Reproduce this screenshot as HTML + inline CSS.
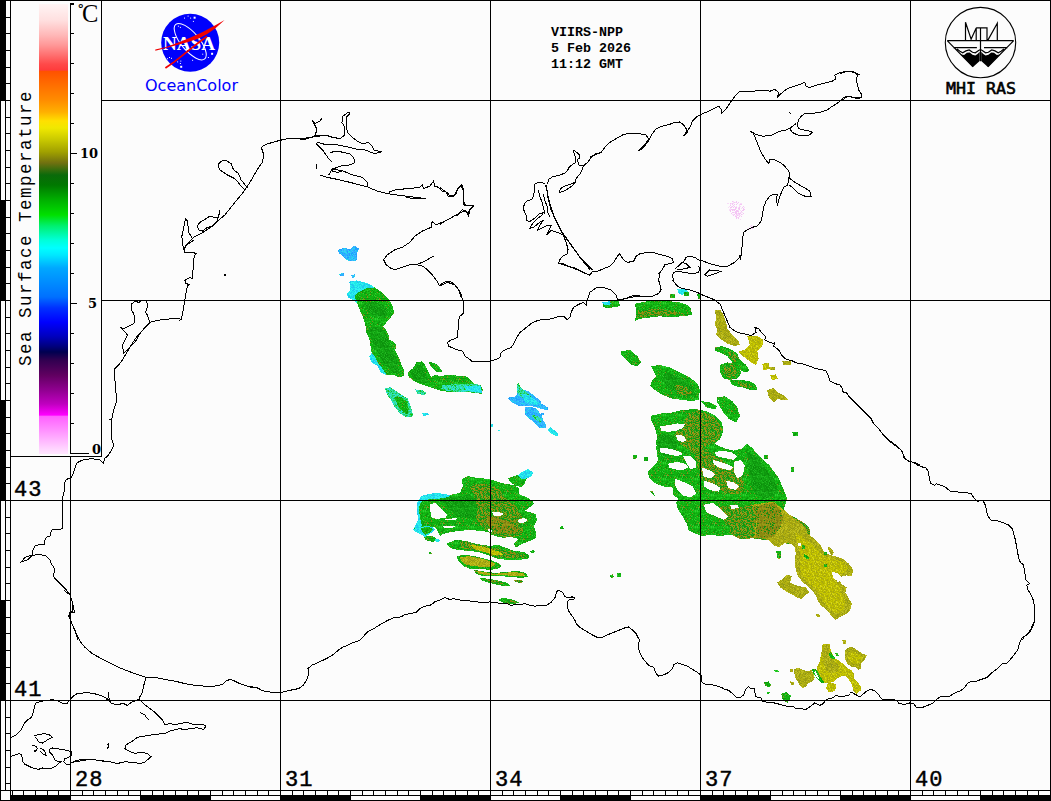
<!DOCTYPE html>
<html><head><meta charset="utf-8"><title>SST Black Sea</title>
<style>html,body{margin:0;padding:0;background:#fcfcfc;}svg{display:block}</style></head>
<body><svg width="1051" height="801" viewBox="0 0 1051 801">
<rect width="1051" height="801" fill="#fcfcfc"/>
<defs><pattern id="pG" width="16" height="16" patternUnits="userSpaceOnUse"><rect width="16" height="16" fill="#10b010"/><path d="M2 0h1v1h-1zM13 0h1v1h-1zM6 1h1v1h-1zM11 1h1v1h-1zM4 2h1v1h-1zM10 2h1v1h-1zM11 2h1v1h-1zM0 3h1v1h-1zM5 3h1v1h-1zM9 3h1v1h-1zM10 3h1v1h-1zM14 3h1v1h-1zM2 4h1v1h-1zM5 4h1v1h-1zM7 4h1v1h-1zM10 4h1v1h-1zM13 4h1v1h-1zM3 5h1v1h-1zM12 5h1v1h-1zM13 5h1v1h-1zM15 6h1v1h-1zM2 7h1v1h-1zM5 7h1v1h-1zM7 7h1v1h-1zM14 8h1v1h-1zM6 9h1v1h-1zM0 10h1v1h-1zM1 10h1v1h-1zM5 10h1v1h-1zM7 10h1v1h-1zM10 10h1v1h-1zM12 10h1v1h-1zM13 10h1v1h-1zM14 10h1v1h-1zM15 10h1v1h-1zM7 11h1v1h-1zM4 12h1v1h-1zM6 12h1v1h-1zM7 12h1v1h-1zM9 12h1v1h-1zM11 12h1v1h-1zM12 12h1v1h-1zM15 12h1v1h-1zM1 13h1v1h-1zM6 13h1v1h-1zM11 13h1v1h-1zM13 13h1v1h-1zM15 13h1v1h-1zM10 14h1v1h-1z" fill="#0c9a0c"/><path d="M4 0h1v1h-1zM7 0h1v1h-1zM9 0h1v1h-1zM12 0h1v1h-1zM0 1h1v1h-1zM2 1h1v1h-1zM13 1h1v1h-1zM14 1h1v1h-1zM0 2h1v1h-1zM5 2h1v1h-1zM7 2h1v1h-1zM8 2h1v1h-1zM13 2h1v1h-1zM14 2h1v1h-1zM4 3h1v1h-1zM7 3h1v1h-1zM11 3h1v1h-1zM15 3h1v1h-1zM0 4h1v1h-1zM1 4h1v1h-1zM4 4h1v1h-1zM8 4h1v1h-1zM15 4h1v1h-1zM9 5h1v1h-1zM10 5h1v1h-1zM15 5h1v1h-1zM7 6h1v1h-1zM8 6h1v1h-1zM11 6h1v1h-1zM13 6h1v1h-1zM0 7h1v1h-1zM1 7h1v1h-1zM11 7h1v1h-1zM8 8h1v1h-1zM0 9h1v1h-1zM1 9h1v1h-1zM10 9h1v1h-1zM12 9h1v1h-1zM14 9h1v1h-1zM6 10h1v1h-1zM1 11h1v1h-1zM9 11h1v1h-1zM2 12h1v1h-1zM5 12h1v1h-1zM13 12h1v1h-1zM4 13h1v1h-1zM1 14h1v1h-1zM5 14h1v1h-1zM6 14h1v1h-1zM8 14h1v1h-1zM15 14h1v1h-1zM1 15h1v1h-1zM5 15h1v1h-1zM6 15h1v1h-1zM8 15h1v1h-1zM10 15h1v1h-1zM11 15h1v1h-1zM12 15h1v1h-1zM14 15h1v1h-1z" fill="#18c018"/><path d="M1 1h1v1h-1zM15 2h1v1h-1zM12 3h1v1h-1zM3 4h1v1h-1zM7 5h1v1h-1zM11 5h1v1h-1zM1 6h1v1h-1zM4 7h1v1h-1zM6 7h1v1h-1zM7 8h1v1h-1zM10 11h1v1h-1zM3 12h1v1h-1zM10 12h1v1h-1zM5 13h1v1h-1zM10 13h1v1h-1zM7 14h1v1h-1zM9 14h1v1h-1zM3 15h1v1h-1zM7 15h1v1h-1zM9 15h1v1h-1z" fill="#30d030"/><path d="M4 1h1v1h-1zM2 3h1v1h-1zM9 4h1v1h-1zM2 6h1v1h-1zM14 6h1v1h-1zM15 8h1v1h-1zM9 9h1v1h-1zM15 9h1v1h-1zM11 10h1v1h-1zM8 11h1v1h-1zM11 11h1v1h-1zM12 11h1v1h-1zM2 13h1v1h-1zM14 13h1v1h-1zM4 14h1v1h-1z" fill="#80901a"/></pattern><pattern id="pGd" width="16" height="16" patternUnits="userSpaceOnUse"><rect width="16" height="16" fill="#0e980e"/><path d="M1 0h1v1h-1zM9 0h1v1h-1zM14 0h1v1h-1zM1 1h1v1h-1zM13 1h1v1h-1zM2 2h1v1h-1zM10 2h1v1h-1zM11 2h1v1h-1zM0 3h1v1h-1zM7 3h1v1h-1zM8 4h1v1h-1zM13 4h1v1h-1zM2 5h1v1h-1zM15 5h1v1h-1zM1 6h1v1h-1zM3 6h1v1h-1zM2 7h1v1h-1zM0 8h1v1h-1zM3 8h1v1h-1zM9 8h1v1h-1zM5 9h1v1h-1zM6 9h1v1h-1zM6 11h1v1h-1zM9 11h1v1h-1zM1 12h1v1h-1zM2 12h1v1h-1zM5 12h1v1h-1zM9 12h1v1h-1zM10 12h1v1h-1zM11 12h1v1h-1zM13 12h1v1h-1zM5 13h1v1h-1zM12 13h1v1h-1zM14 14h1v1h-1z" fill="#20b820"/><path d="M3 0h1v1h-1zM4 0h1v1h-1zM5 0h1v1h-1zM7 0h1v1h-1zM8 0h1v1h-1zM11 0h1v1h-1zM15 0h1v1h-1zM0 1h1v1h-1zM4 1h1v1h-1zM5 1h1v1h-1zM6 1h1v1h-1zM7 1h1v1h-1zM8 1h1v1h-1zM9 1h1v1h-1zM10 1h1v1h-1zM12 1h1v1h-1zM0 2h1v1h-1zM9 2h1v1h-1zM13 2h1v1h-1zM14 2h1v1h-1zM5 3h1v1h-1zM10 3h1v1h-1zM14 3h1v1h-1zM0 4h1v1h-1zM4 4h1v1h-1zM5 4h1v1h-1zM6 5h1v1h-1zM7 5h1v1h-1zM10 5h1v1h-1zM14 5h1v1h-1zM4 6h1v1h-1zM6 6h1v1h-1zM10 6h1v1h-1zM4 7h1v1h-1zM10 7h1v1h-1zM11 7h1v1h-1zM13 7h1v1h-1zM2 8h1v1h-1zM5 8h1v1h-1zM6 8h1v1h-1zM10 8h1v1h-1zM11 8h1v1h-1zM1 9h1v1h-1zM7 9h1v1h-1zM11 9h1v1h-1zM1 10h1v1h-1zM8 10h1v1h-1zM9 10h1v1h-1zM11 10h1v1h-1zM4 11h1v1h-1zM5 11h1v1h-1zM7 11h1v1h-1zM8 11h1v1h-1zM14 11h1v1h-1zM15 11h1v1h-1zM3 12h1v1h-1zM4 12h1v1h-1zM7 12h1v1h-1zM8 12h1v1h-1zM12 12h1v1h-1zM14 12h1v1h-1zM15 12h1v1h-1zM6 13h1v1h-1zM7 13h1v1h-1zM8 13h1v1h-1zM9 13h1v1h-1zM10 13h1v1h-1zM13 13h1v1h-1zM14 13h1v1h-1zM15 13h1v1h-1zM0 14h1v1h-1zM2 14h1v1h-1zM6 14h1v1h-1zM8 14h1v1h-1zM10 14h1v1h-1zM12 14h1v1h-1zM13 14h1v1h-1zM15 14h1v1h-1zM0 15h1v1h-1zM4 15h1v1h-1zM6 15h1v1h-1zM10 15h1v1h-1zM11 15h1v1h-1zM12 15h1v1h-1zM14 15h1v1h-1zM15 15h1v1h-1z" fill="#14a814"/><path d="M2 1h1v1h-1zM11 1h1v1h-1zM14 1h1v1h-1zM1 2h1v1h-1zM1 3h1v1h-1zM3 3h1v1h-1zM6 3h1v1h-1zM7 4h1v1h-1zM9 4h1v1h-1zM1 5h1v1h-1zM5 5h1v1h-1zM13 5h1v1h-1zM7 6h1v1h-1zM14 7h1v1h-1zM7 8h1v1h-1zM15 9h1v1h-1zM0 10h1v1h-1zM3 10h1v1h-1zM12 11h1v1h-1zM9 14h1v1h-1z" fill="#0a8a0a"/></pattern><pattern id="pGO" width="16" height="16" patternUnits="userSpaceOnUse"><rect width="16" height="16" fill="#109810"/><path d="M0 0h1v1h-1zM7 0h1v1h-1zM10 0h1v1h-1zM14 1h1v1h-1zM15 1h1v1h-1zM1 2h1v1h-1zM2 2h1v1h-1zM12 2h1v1h-1zM13 2h1v1h-1zM0 3h1v1h-1zM1 3h1v1h-1zM12 3h1v1h-1zM7 4h1v1h-1zM15 4h1v1h-1zM5 5h1v1h-1zM7 5h1v1h-1zM0 6h1v1h-1zM4 6h1v1h-1zM11 6h1v1h-1zM12 6h1v1h-1zM14 6h1v1h-1zM15 6h1v1h-1zM10 7h1v1h-1zM11 7h1v1h-1zM6 8h1v1h-1zM4 9h1v1h-1zM11 9h1v1h-1zM4 10h1v1h-1zM8 10h1v1h-1zM9 10h1v1h-1zM2 11h1v1h-1zM6 11h1v1h-1zM12 11h1v1h-1zM13 11h1v1h-1zM5 12h1v1h-1zM15 12h1v1h-1zM3 13h1v1h-1zM9 13h1v1h-1zM15 13h1v1h-1zM5 14h1v1h-1zM6 14h1v1h-1zM7 14h1v1h-1zM11 14h1v1h-1zM0 15h1v1h-1zM3 15h1v1h-1zM6 15h1v1h-1zM9 15h1v1h-1zM12 15h1v1h-1z" fill="#20a820"/><path d="M2 0h1v1h-1zM4 0h1v1h-1zM5 0h1v1h-1zM8 0h1v1h-1zM9 0h1v1h-1zM13 0h1v1h-1zM2 1h1v1h-1zM4 1h1v1h-1zM6 1h1v1h-1zM9 1h1v1h-1zM3 2h1v1h-1zM6 2h1v1h-1zM8 2h1v1h-1zM10 2h1v1h-1zM14 2h1v1h-1zM5 3h1v1h-1zM7 3h1v1h-1zM13 3h1v1h-1zM14 3h1v1h-1zM15 3h1v1h-1zM1 4h1v1h-1zM2 4h1v1h-1zM12 4h1v1h-1zM2 5h1v1h-1zM11 5h1v1h-1zM14 5h1v1h-1zM15 5h1v1h-1zM9 6h1v1h-1zM2 7h1v1h-1zM6 7h1v1h-1zM12 7h1v1h-1zM13 7h1v1h-1zM14 7h1v1h-1zM2 8h1v1h-1zM7 8h1v1h-1zM8 8h1v1h-1zM9 8h1v1h-1zM10 8h1v1h-1zM0 9h1v1h-1zM9 9h1v1h-1zM10 10h1v1h-1zM12 10h1v1h-1zM0 11h1v1h-1zM9 11h1v1h-1zM0 12h1v1h-1zM4 12h1v1h-1zM6 12h1v1h-1zM11 12h1v1h-1zM1 13h1v1h-1zM5 13h1v1h-1zM10 13h1v1h-1zM11 13h1v1h-1zM13 13h1v1h-1zM14 13h1v1h-1zM1 14h1v1h-1zM12 14h1v1h-1zM14 14h1v1h-1zM1 15h1v1h-1zM2 15h1v1h-1zM7 15h1v1h-1zM10 15h1v1h-1zM13 15h1v1h-1z" fill="#9a9a18"/><path d="M15 0h1v1h-1zM1 1h1v1h-1zM5 1h1v1h-1zM7 1h1v1h-1zM10 1h1v1h-1zM13 1h1v1h-1zM5 2h1v1h-1zM9 2h1v1h-1zM15 2h1v1h-1zM10 3h1v1h-1zM0 4h1v1h-1zM3 4h1v1h-1zM4 4h1v1h-1zM6 4h1v1h-1zM8 4h1v1h-1zM9 4h1v1h-1zM14 4h1v1h-1zM1 5h1v1h-1zM4 5h1v1h-1zM6 5h1v1h-1zM12 5h1v1h-1zM8 6h1v1h-1zM10 6h1v1h-1zM13 6h1v1h-1zM4 7h1v1h-1zM5 7h1v1h-1zM1 8h1v1h-1zM3 8h1v1h-1zM4 8h1v1h-1zM14 8h1v1h-1zM15 8h1v1h-1zM1 9h1v1h-1zM2 9h1v1h-1zM3 9h1v1h-1zM5 9h1v1h-1zM7 9h1v1h-1zM10 9h1v1h-1zM14 9h1v1h-1zM15 9h1v1h-1zM2 10h1v1h-1zM3 10h1v1h-1zM6 10h1v1h-1zM11 10h1v1h-1zM13 10h1v1h-1zM1 11h1v1h-1zM4 11h1v1h-1zM5 11h1v1h-1zM8 11h1v1h-1zM14 11h1v1h-1zM1 12h1v1h-1zM2 12h1v1h-1zM9 12h1v1h-1zM12 12h1v1h-1zM0 13h1v1h-1zM12 13h1v1h-1zM2 14h1v1h-1zM4 14h1v1h-1zM5 15h1v1h-1zM14 15h1v1h-1z" fill="#8a8a10"/></pattern><pattern id="pO" width="16" height="16" patternUnits="userSpaceOnUse"><rect width="16" height="16" fill="#8a8a10"/><path d="M2 0h1v1h-1zM5 0h1v1h-1zM8 0h1v1h-1zM0 1h1v1h-1zM2 1h1v1h-1zM6 1h1v1h-1zM7 1h1v1h-1zM12 1h1v1h-1zM15 2h1v1h-1zM0 3h1v1h-1zM1 3h1v1h-1zM9 4h1v1h-1zM13 4h1v1h-1zM2 5h1v1h-1zM7 5h1v1h-1zM12 5h1v1h-1zM14 5h1v1h-1zM0 6h1v1h-1zM4 6h1v1h-1zM3 8h1v1h-1zM8 8h1v1h-1zM9 8h1v1h-1zM15 8h1v1h-1zM3 9h1v1h-1zM9 9h1v1h-1zM1 10h1v1h-1zM5 10h1v1h-1zM8 10h1v1h-1zM9 10h1v1h-1zM12 10h1v1h-1zM14 10h1v1h-1zM15 11h1v1h-1zM8 14h1v1h-1zM10 14h1v1h-1zM11 14h1v1h-1zM15 14h1v1h-1zM1 15h1v1h-1zM2 15h1v1h-1zM5 15h1v1h-1zM10 15h1v1h-1zM15 15h1v1h-1z" fill="#7a7a10"/><path d="M4 0h1v1h-1zM11 0h1v1h-1zM15 0h1v1h-1zM14 1h1v1h-1zM15 1h1v1h-1zM0 2h1v1h-1zM1 2h1v1h-1zM6 2h1v1h-1zM9 2h1v1h-1zM6 3h1v1h-1zM12 3h1v1h-1zM13 3h1v1h-1zM0 4h1v1h-1zM4 4h1v1h-1zM0 5h1v1h-1zM5 5h1v1h-1zM6 5h1v1h-1zM3 6h1v1h-1zM6 7h1v1h-1zM12 8h1v1h-1zM1 9h1v1h-1zM4 10h1v1h-1zM0 11h1v1h-1zM2 11h1v1h-1zM5 11h1v1h-1zM6 11h1v1h-1zM14 11h1v1h-1zM2 12h1v1h-1zM4 12h1v1h-1zM4 13h1v1h-1zM5 13h1v1h-1zM2 14h1v1h-1zM3 14h1v1h-1zM12 14h1v1h-1zM13 14h1v1h-1zM4 15h1v1h-1zM8 15h1v1h-1zM12 15h1v1h-1z" fill="#109010"/><path d="M9 0h1v1h-1zM1 1h1v1h-1zM5 1h1v1h-1zM10 1h1v1h-1zM11 1h1v1h-1zM2 2h1v1h-1zM13 2h1v1h-1zM5 3h1v1h-1zM7 3h1v1h-1zM9 3h1v1h-1zM10 3h1v1h-1zM11 3h1v1h-1zM14 3h1v1h-1zM2 4h1v1h-1zM10 4h1v1h-1zM14 4h1v1h-1zM1 5h1v1h-1zM4 5h1v1h-1zM13 5h1v1h-1zM1 6h1v1h-1zM6 6h1v1h-1zM7 6h1v1h-1zM13 6h1v1h-1zM14 6h1v1h-1zM2 7h1v1h-1zM7 7h1v1h-1zM11 7h1v1h-1zM12 7h1v1h-1zM15 7h1v1h-1zM0 8h1v1h-1zM5 8h1v1h-1zM7 8h1v1h-1zM0 9h1v1h-1zM2 9h1v1h-1zM4 9h1v1h-1zM7 9h1v1h-1zM8 9h1v1h-1zM11 9h1v1h-1zM13 9h1v1h-1zM0 10h1v1h-1zM3 10h1v1h-1zM10 10h1v1h-1zM15 10h1v1h-1zM4 11h1v1h-1zM10 11h1v1h-1zM1 12h1v1h-1zM6 12h1v1h-1zM7 12h1v1h-1zM8 12h1v1h-1zM10 12h1v1h-1zM11 12h1v1h-1zM12 12h1v1h-1zM13 12h1v1h-1zM14 12h1v1h-1zM15 12h1v1h-1zM1 13h1v1h-1zM2 13h1v1h-1zM6 13h1v1h-1zM8 13h1v1h-1zM11 13h1v1h-1zM13 13h1v1h-1zM14 13h1v1h-1zM0 14h1v1h-1zM4 14h1v1h-1zM6 14h1v1h-1zM0 15h1v1h-1zM14 15h1v1h-1z" fill="#9a9a18"/></pattern><pattern id="pOY" width="16" height="16" patternUnits="userSpaceOnUse"><rect width="16" height="16" fill="#b0b010"/><path d="M2 0h1v1h-1zM13 0h1v1h-1zM15 0h1v1h-1zM1 1h1v1h-1zM2 1h1v1h-1zM7 1h1v1h-1zM11 1h1v1h-1zM12 1h1v1h-1zM14 1h1v1h-1zM6 2h1v1h-1zM13 2h1v1h-1zM14 2h1v1h-1zM5 3h1v1h-1zM7 3h1v1h-1zM9 3h1v1h-1zM10 3h1v1h-1zM13 3h1v1h-1zM6 4h1v1h-1zM10 4h1v1h-1zM11 4h1v1h-1zM13 4h1v1h-1zM3 5h1v1h-1zM4 5h1v1h-1zM9 5h1v1h-1zM14 5h1v1h-1zM11 6h1v1h-1zM13 6h1v1h-1zM8 7h1v1h-1zM9 7h1v1h-1zM11 7h1v1h-1zM0 9h1v1h-1zM4 9h1v1h-1zM6 9h1v1h-1zM9 10h1v1h-1zM10 10h1v1h-1zM1 12h1v1h-1zM6 12h1v1h-1zM9 12h1v1h-1zM13 12h1v1h-1zM14 12h1v1h-1zM2 13h1v1h-1zM13 13h1v1h-1zM14 13h1v1h-1zM1 14h1v1h-1zM9 14h1v1h-1zM1 15h1v1h-1zM2 15h1v1h-1zM3 15h1v1h-1zM11 15h1v1h-1zM12 15h1v1h-1zM15 15h1v1h-1z" fill="#c0c020"/><path d="M7 0h1v1h-1zM9 0h1v1h-1zM0 1h1v1h-1zM3 1h1v1h-1zM5 1h1v1h-1zM10 1h1v1h-1zM5 2h1v1h-1zM15 2h1v1h-1zM15 3h1v1h-1zM4 4h1v1h-1zM14 4h1v1h-1zM1 5h1v1h-1zM10 5h1v1h-1zM5 6h1v1h-1zM14 7h1v1h-1zM0 8h1v1h-1zM5 8h1v1h-1zM8 8h1v1h-1zM11 8h1v1h-1zM15 8h1v1h-1zM3 9h1v1h-1zM11 9h1v1h-1zM15 9h1v1h-1zM13 10h1v1h-1zM15 10h1v1h-1zM0 11h1v1h-1zM1 11h1v1h-1zM8 12h1v1h-1zM10 12h1v1h-1zM4 13h1v1h-1zM11 13h1v1h-1zM5 14h1v1h-1zM4 15h1v1h-1zM6 15h1v1h-1zM10 15h1v1h-1zM13 15h1v1h-1z" fill="#909818"/><path d="M8 0h1v1h-1zM11 0h1v1h-1zM14 0h1v1h-1zM6 1h1v1h-1zM8 1h1v1h-1zM13 1h1v1h-1zM0 2h1v1h-1zM2 2h1v1h-1zM4 2h1v1h-1zM7 2h1v1h-1zM12 2h1v1h-1zM2 3h1v1h-1zM12 3h1v1h-1zM3 4h1v1h-1zM5 4h1v1h-1zM9 4h1v1h-1zM12 4h1v1h-1zM15 4h1v1h-1zM7 5h1v1h-1zM13 5h1v1h-1zM15 5h1v1h-1zM0 6h1v1h-1zM6 6h1v1h-1zM7 6h1v1h-1zM9 6h1v1h-1zM10 6h1v1h-1zM12 6h1v1h-1zM3 7h1v1h-1zM4 7h1v1h-1zM5 7h1v1h-1zM6 7h1v1h-1zM10 7h1v1h-1zM13 7h1v1h-1zM4 8h1v1h-1zM6 8h1v1h-1zM12 8h1v1h-1zM13 8h1v1h-1zM14 8h1v1h-1zM1 9h1v1h-1zM2 9h1v1h-1zM5 9h1v1h-1zM9 9h1v1h-1zM4 10h1v1h-1zM5 10h1v1h-1zM6 10h1v1h-1zM7 10h1v1h-1zM11 10h1v1h-1zM12 10h1v1h-1zM6 11h1v1h-1zM7 11h1v1h-1zM8 11h1v1h-1zM9 11h1v1h-1zM10 11h1v1h-1zM14 11h1v1h-1zM5 12h1v1h-1zM11 12h1v1h-1zM15 12h1v1h-1zM1 13h1v1h-1zM6 13h1v1h-1zM10 13h1v1h-1zM15 13h1v1h-1zM3 14h1v1h-1zM8 14h1v1h-1zM11 14h1v1h-1zM13 14h1v1h-1zM14 14h1v1h-1zM15 14h1v1h-1zM0 15h1v1h-1z" fill="#a0a010"/></pattern><pattern id="pY" width="16" height="16" patternUnits="userSpaceOnUse"><rect width="16" height="16" fill="#c8c800"/><path d="M0 0h1v1h-1zM3 0h1v1h-1zM11 0h1v1h-1zM13 0h1v1h-1zM15 0h1v1h-1zM10 1h1v1h-1zM3 2h1v1h-1zM7 2h1v1h-1zM9 2h1v1h-1zM12 2h1v1h-1zM14 2h1v1h-1zM1 3h1v1h-1zM2 3h1v1h-1zM3 3h1v1h-1zM5 3h1v1h-1zM6 3h1v1h-1zM9 3h1v1h-1zM10 3h1v1h-1zM12 3h1v1h-1zM4 4h1v1h-1zM5 4h1v1h-1zM7 4h1v1h-1zM9 4h1v1h-1zM12 4h1v1h-1zM14 4h1v1h-1zM15 4h1v1h-1zM0 5h1v1h-1zM1 5h1v1h-1zM7 5h1v1h-1zM8 5h1v1h-1zM11 5h1v1h-1zM15 5h1v1h-1zM1 6h1v1h-1zM2 6h1v1h-1zM4 6h1v1h-1zM5 6h1v1h-1zM7 6h1v1h-1zM8 6h1v1h-1zM12 6h1v1h-1zM0 7h1v1h-1zM3 7h1v1h-1zM5 7h1v1h-1zM6 7h1v1h-1zM8 7h1v1h-1zM13 7h1v1h-1zM0 8h1v1h-1zM5 8h1v1h-1zM6 8h1v1h-1zM7 8h1v1h-1zM10 8h1v1h-1zM11 8h1v1h-1zM14 8h1v1h-1zM0 9h1v1h-1zM3 9h1v1h-1zM6 9h1v1h-1zM8 9h1v1h-1zM15 9h1v1h-1zM0 10h1v1h-1zM1 10h1v1h-1zM3 10h1v1h-1zM12 10h1v1h-1zM12 11h1v1h-1zM4 12h1v1h-1zM6 12h1v1h-1zM8 12h1v1h-1zM12 12h1v1h-1zM14 12h1v1h-1zM0 13h1v1h-1zM1 13h1v1h-1zM2 13h1v1h-1zM6 13h1v1h-1zM7 13h1v1h-1zM10 13h1v1h-1zM11 13h1v1h-1zM14 13h1v1h-1zM15 13h1v1h-1zM1 14h1v1h-1zM6 14h1v1h-1zM7 14h1v1h-1zM11 14h1v1h-1zM14 14h1v1h-1zM15 14h1v1h-1zM0 15h1v1h-1zM3 15h1v1h-1zM4 15h1v1h-1zM5 15h1v1h-1zM9 15h1v1h-1zM10 15h1v1h-1zM12 15h1v1h-1z" fill="#b8b800"/><path d="M1 0h1v1h-1zM2 0h1v1h-1zM7 0h1v1h-1zM8 0h1v1h-1zM9 0h1v1h-1zM12 0h1v1h-1zM4 1h1v1h-1zM5 1h1v1h-1zM15 1h1v1h-1zM5 2h1v1h-1zM6 2h1v1h-1zM15 2h1v1h-1zM0 3h1v1h-1zM7 3h1v1h-1zM11 3h1v1h-1zM14 3h1v1h-1zM0 4h1v1h-1zM1 4h1v1h-1zM3 4h1v1h-1zM10 4h1v1h-1zM11 4h1v1h-1zM2 5h1v1h-1zM5 5h1v1h-1zM6 5h1v1h-1zM13 5h1v1h-1zM3 6h1v1h-1zM6 6h1v1h-1zM11 6h1v1h-1zM13 6h1v1h-1zM7 7h1v1h-1zM11 7h1v1h-1zM15 7h1v1h-1zM3 8h1v1h-1zM4 8h1v1h-1zM12 8h1v1h-1zM13 8h1v1h-1zM2 9h1v1h-1zM11 9h1v1h-1zM2 10h1v1h-1zM7 10h1v1h-1zM9 10h1v1h-1zM11 10h1v1h-1zM0 11h1v1h-1zM5 11h1v1h-1zM9 11h1v1h-1zM13 11h1v1h-1zM14 11h1v1h-1zM0 12h1v1h-1zM1 12h1v1h-1zM3 12h1v1h-1zM5 12h1v1h-1zM5 13h1v1h-1zM8 13h1v1h-1zM9 13h1v1h-1zM2 14h1v1h-1zM10 14h1v1h-1zM1 15h1v1h-1zM6 15h1v1h-1zM8 15h1v1h-1zM14 15h1v1h-1zM15 15h1v1h-1z" fill="#a8a810"/><path d="M0 1h1v1h-1zM14 1h1v1h-1zM1 2h1v1h-1zM4 2h1v1h-1zM8 3h1v1h-1zM15 3h1v1h-1zM2 4h1v1h-1zM3 5h1v1h-1zM9 5h1v1h-1zM14 5h1v1h-1zM9 6h1v1h-1zM15 6h1v1h-1zM12 7h1v1h-1zM9 8h1v1h-1zM4 9h1v1h-1zM4 10h1v1h-1zM5 10h1v1h-1zM8 10h1v1h-1zM15 10h1v1h-1zM8 11h1v1h-1zM11 11h1v1h-1zM15 11h1v1h-1zM7 12h1v1h-1zM3 13h1v1h-1zM12 13h1v1h-1zM3 14h1v1h-1zM5 14h1v1h-1zM8 14h1v1h-1zM13 14h1v1h-1zM13 15h1v1h-1z" fill="#d8d818"/></pattern><pattern id="pC" width="16" height="16" patternUnits="userSpaceOnUse"><rect width="16" height="16" fill="#20e8e8"/><path d="M3 0h1v1h-1zM4 0h1v1h-1zM7 0h1v1h-1zM9 0h1v1h-1zM15 0h1v1h-1zM0 1h1v1h-1zM3 1h1v1h-1zM4 1h1v1h-1zM5 1h1v1h-1zM6 1h1v1h-1zM7 1h1v1h-1zM8 1h1v1h-1zM10 1h1v1h-1zM2 2h1v1h-1zM6 2h1v1h-1zM12 2h1v1h-1zM15 2h1v1h-1zM3 3h1v1h-1zM8 3h1v1h-1zM14 3h1v1h-1zM3 4h1v1h-1zM10 4h1v1h-1zM12 4h1v1h-1zM0 5h1v1h-1zM2 5h1v1h-1zM4 5h1v1h-1zM5 5h1v1h-1zM10 5h1v1h-1zM13 5h1v1h-1zM1 6h1v1h-1zM7 6h1v1h-1zM9 6h1v1h-1zM13 6h1v1h-1zM14 6h1v1h-1zM4 7h1v1h-1zM8 7h1v1h-1zM11 7h1v1h-1zM14 7h1v1h-1zM3 8h1v1h-1zM4 8h1v1h-1zM11 8h1v1h-1zM2 9h1v1h-1zM6 9h1v1h-1zM10 9h1v1h-1zM0 10h1v1h-1zM1 10h1v1h-1zM12 10h1v1h-1zM15 10h1v1h-1zM1 11h1v1h-1zM5 11h1v1h-1zM7 11h1v1h-1zM9 11h1v1h-1zM15 11h1v1h-1zM2 12h1v1h-1zM4 12h1v1h-1zM10 12h1v1h-1zM8 13h1v1h-1zM14 13h1v1h-1zM3 14h1v1h-1zM4 14h1v1h-1zM6 14h1v1h-1zM5 15h1v1h-1zM6 15h1v1h-1zM12 15h1v1h-1zM14 15h1v1h-1z" fill="#30f4f0"/><path d="M5 0h1v1h-1zM8 0h1v1h-1zM14 0h1v1h-1zM1 1h1v1h-1zM2 1h1v1h-1zM12 1h1v1h-1zM0 2h1v1h-1zM1 2h1v1h-1zM4 2h1v1h-1zM5 2h1v1h-1zM13 2h1v1h-1zM2 3h1v1h-1zM4 3h1v1h-1zM9 3h1v1h-1zM10 3h1v1h-1zM5 4h1v1h-1zM7 4h1v1h-1zM15 4h1v1h-1zM1 5h1v1h-1zM7 5h1v1h-1zM9 5h1v1h-1zM14 5h1v1h-1zM3 6h1v1h-1zM11 6h1v1h-1zM1 7h1v1h-1zM2 7h1v1h-1zM3 7h1v1h-1zM7 7h1v1h-1zM9 7h1v1h-1zM12 7h1v1h-1zM13 7h1v1h-1zM1 8h1v1h-1zM5 8h1v1h-1zM6 8h1v1h-1zM12 8h1v1h-1zM13 8h1v1h-1zM15 8h1v1h-1zM0 9h1v1h-1zM1 9h1v1h-1zM4 9h1v1h-1zM5 9h1v1h-1zM7 9h1v1h-1zM11 9h1v1h-1zM13 9h1v1h-1zM14 9h1v1h-1zM5 10h1v1h-1zM6 10h1v1h-1zM9 10h1v1h-1zM10 10h1v1h-1zM13 10h1v1h-1zM14 10h1v1h-1zM12 11h1v1h-1zM0 12h1v1h-1zM7 12h1v1h-1zM8 12h1v1h-1zM12 12h1v1h-1zM14 12h1v1h-1zM15 12h1v1h-1zM0 13h1v1h-1zM1 13h1v1h-1zM9 13h1v1h-1zM11 13h1v1h-1zM12 13h1v1h-1zM1 14h1v1h-1zM5 14h1v1h-1zM10 14h1v1h-1zM11 14h1v1h-1zM0 15h1v1h-1zM1 15h1v1h-1zM2 15h1v1h-1zM4 15h1v1h-1zM7 15h1v1h-1zM10 15h1v1h-1zM11 15h1v1h-1zM15 15h1v1h-1z" fill="#20c8f0"/></pattern><pattern id="pLB" width="16" height="16" patternUnits="userSpaceOnUse"><rect width="16" height="16" fill="#30b0ff"/><path d="M4 0h1v1h-1zM7 1h1v1h-1zM8 1h1v1h-1zM11 1h1v1h-1zM12 1h1v1h-1zM1 2h1v1h-1zM11 2h1v1h-1zM4 3h1v1h-1zM9 4h1v1h-1zM14 4h1v1h-1zM6 5h1v1h-1zM7 5h1v1h-1zM10 5h1v1h-1zM13 5h1v1h-1zM8 6h1v1h-1zM11 6h1v1h-1zM3 7h1v1h-1zM5 7h1v1h-1zM7 7h1v1h-1zM3 8h1v1h-1zM4 8h1v1h-1zM5 8h1v1h-1zM6 8h1v1h-1zM3 9h1v1h-1zM4 9h1v1h-1zM5 9h1v1h-1zM12 9h1v1h-1zM13 9h1v1h-1zM2 10h1v1h-1zM5 10h1v1h-1zM13 10h1v1h-1zM11 11h1v1h-1zM0 12h1v1h-1zM2 12h1v1h-1zM5 12h1v1h-1zM11 12h1v1h-1zM0 13h1v1h-1zM4 13h1v1h-1zM6 13h1v1h-1zM8 13h1v1h-1zM13 13h1v1h-1zM15 13h1v1h-1zM1 14h1v1h-1zM3 14h1v1h-1zM4 14h1v1h-1zM13 14h1v1h-1zM15 14h1v1h-1zM0 15h1v1h-1zM4 15h1v1h-1zM5 15h1v1h-1zM6 15h1v1h-1zM7 15h1v1h-1zM11 15h1v1h-1zM13 15h1v1h-1z" fill="#20a0ff"/><path d="M8 0h1v1h-1zM10 0h1v1h-1zM6 1h1v1h-1zM10 1h1v1h-1zM0 2h1v1h-1zM8 2h1v1h-1zM2 3h1v1h-1zM0 4h1v1h-1zM4 4h1v1h-1zM8 4h1v1h-1zM1 5h1v1h-1zM2 5h1v1h-1zM11 5h1v1h-1zM12 5h1v1h-1zM0 6h1v1h-1zM2 6h1v1h-1zM4 6h1v1h-1zM6 6h1v1h-1zM15 6h1v1h-1zM9 7h1v1h-1zM10 7h1v1h-1zM13 7h1v1h-1zM15 7h1v1h-1zM13 8h1v1h-1zM0 9h1v1h-1zM6 9h1v1h-1zM9 9h1v1h-1zM6 10h1v1h-1zM8 10h1v1h-1zM12 10h1v1h-1zM0 11h1v1h-1zM6 11h1v1h-1zM8 11h1v1h-1zM9 11h1v1h-1zM9 12h1v1h-1zM12 12h1v1h-1zM2 13h1v1h-1zM14 14h1v1h-1zM1 15h1v1h-1zM3 15h1v1h-1z" fill="#40c4ff"/><path d="M13 0h1v1h-1zM15 0h1v1h-1zM0 1h1v1h-1zM1 1h1v1h-1zM5 1h1v1h-1zM3 2h1v1h-1zM13 2h1v1h-1zM15 2h1v1h-1zM1 3h1v1h-1zM9 3h1v1h-1zM10 3h1v1h-1zM11 3h1v1h-1zM14 3h1v1h-1zM2 4h1v1h-1zM12 4h1v1h-1zM7 6h1v1h-1zM10 6h1v1h-1zM12 6h1v1h-1zM11 7h1v1h-1zM1 8h1v1h-1zM2 8h1v1h-1zM8 8h1v1h-1zM8 9h1v1h-1zM3 10h1v1h-1zM9 10h1v1h-1zM15 10h1v1h-1zM5 11h1v1h-1zM7 11h1v1h-1zM12 11h1v1h-1zM13 11h1v1h-1zM8 12h1v1h-1zM10 12h1v1h-1zM13 12h1v1h-1zM14 12h1v1h-1zM5 13h1v1h-1zM10 13h1v1h-1zM0 14h1v1h-1z" fill="#20e0e8"/></pattern><pattern id="pPk" width="16" height="16" patternUnits="userSpaceOnUse"><rect width="16" height="16" fill="#fcfcfc"/><path d="M0 0h1v1h-1zM5 0h1v1h-1zM10 0h1v1h-1zM2 1h1v1h-1zM9 1h1v1h-1zM10 1h1v1h-1zM2 2h1v1h-1zM4 2h1v1h-1zM9 2h1v1h-1zM13 2h1v1h-1zM9 3h1v1h-1zM2 4h1v1h-1zM4 4h1v1h-1zM5 4h1v1h-1zM6 4h1v1h-1zM9 4h1v1h-1zM14 4h1v1h-1zM1 5h1v1h-1zM9 5h1v1h-1zM1 6h1v1h-1zM2 6h1v1h-1zM6 6h1v1h-1zM9 6h1v1h-1zM12 6h1v1h-1zM13 6h1v1h-1zM0 7h1v1h-1zM2 7h1v1h-1zM3 7h1v1h-1zM4 7h1v1h-1zM15 7h1v1h-1zM8 8h1v1h-1zM1 9h1v1h-1zM11 9h1v1h-1zM13 9h1v1h-1zM7 10h1v1h-1zM13 10h1v1h-1zM15 10h1v1h-1zM4 11h1v1h-1zM5 11h1v1h-1zM7 11h1v1h-1zM8 11h1v1h-1zM11 11h1v1h-1zM13 11h1v1h-1zM3 12h1v1h-1zM10 12h1v1h-1zM3 13h1v1h-1zM0 14h1v1h-1zM3 14h1v1h-1zM4 14h1v1h-1zM9 14h1v1h-1zM11 14h1v1h-1zM2 15h1v1h-1zM8 15h1v1h-1z" fill="#f8dcf8"/><path d="M2 0h1v1h-1zM3 0h1v1h-1zM7 0h1v1h-1zM15 0h1v1h-1zM3 1h1v1h-1zM7 1h1v1h-1zM8 1h1v1h-1zM11 1h1v1h-1zM12 1h1v1h-1zM13 1h1v1h-1zM14 1h1v1h-1zM15 1h1v1h-1zM0 2h1v1h-1zM1 2h1v1h-1zM6 2h1v1h-1zM7 2h1v1h-1zM8 2h1v1h-1zM10 2h1v1h-1zM12 2h1v1h-1zM14 2h1v1h-1zM0 3h1v1h-1zM1 3h1v1h-1zM2 3h1v1h-1zM5 3h1v1h-1zM8 3h1v1h-1zM10 3h1v1h-1zM15 3h1v1h-1zM0 4h1v1h-1zM12 4h1v1h-1zM13 4h1v1h-1zM15 4h1v1h-1zM0 5h1v1h-1zM2 5h1v1h-1zM3 5h1v1h-1zM4 5h1v1h-1zM7 5h1v1h-1zM10 5h1v1h-1zM11 5h1v1h-1zM15 5h1v1h-1zM0 6h1v1h-1zM3 6h1v1h-1zM5 6h1v1h-1zM8 6h1v1h-1zM14 6h1v1h-1zM1 7h1v1h-1zM8 7h1v1h-1zM9 7h1v1h-1zM12 7h1v1h-1zM13 7h1v1h-1zM0 8h1v1h-1zM3 8h1v1h-1zM5 8h1v1h-1zM9 8h1v1h-1zM10 8h1v1h-1zM12 8h1v1h-1zM13 8h1v1h-1zM15 8h1v1h-1zM0 9h1v1h-1zM2 9h1v1h-1zM6 9h1v1h-1zM10 9h1v1h-1zM12 9h1v1h-1zM0 10h1v1h-1zM2 10h1v1h-1zM8 10h1v1h-1zM14 10h1v1h-1zM1 11h1v1h-1zM10 11h1v1h-1zM12 11h1v1h-1zM0 12h1v1h-1zM4 12h1v1h-1zM5 12h1v1h-1zM12 12h1v1h-1zM14 12h1v1h-1zM10 13h1v1h-1zM13 13h1v1h-1zM7 14h1v1h-1zM12 14h1v1h-1zM14 14h1v1h-1zM0 15h1v1h-1zM3 15h1v1h-1zM6 15h1v1h-1zM10 15h1v1h-1zM11 15h1v1h-1zM13 15h1v1h-1zM15 15h1v1h-1z" fill="#f4c4f4"/></pattern><pattern id="pCG" width="16" height="16" patternUnits="userSpaceOnUse"><rect width="16" height="16" fill="#30e0a0"/><path d="M0 0h1v1h-1zM2 0h1v1h-1zM9 0h1v1h-1zM10 0h1v1h-1zM11 0h1v1h-1zM3 1h1v1h-1zM13 1h1v1h-1zM14 1h1v1h-1zM3 2h1v1h-1zM15 2h1v1h-1zM5 3h1v1h-1zM8 3h1v1h-1zM11 4h1v1h-1zM1 5h1v1h-1zM7 5h1v1h-1zM10 5h1v1h-1zM11 5h1v1h-1zM3 6h1v1h-1zM6 6h1v1h-1zM9 6h1v1h-1zM10 6h1v1h-1zM2 7h1v1h-1zM3 7h1v1h-1zM5 7h1v1h-1zM9 7h1v1h-1zM12 7h1v1h-1zM0 8h1v1h-1zM1 8h1v1h-1zM6 8h1v1h-1zM12 8h1v1h-1zM15 8h1v1h-1zM0 9h1v1h-1zM9 9h1v1h-1zM11 9h1v1h-1zM12 9h1v1h-1zM14 9h1v1h-1zM8 11h1v1h-1zM9 11h1v1h-1zM10 11h1v1h-1zM14 11h1v1h-1zM4 12h1v1h-1zM5 12h1v1h-1zM8 12h1v1h-1zM12 12h1v1h-1zM0 13h1v1h-1zM7 13h1v1h-1zM10 13h1v1h-1zM11 13h1v1h-1zM13 13h1v1h-1zM3 14h1v1h-1zM4 14h1v1h-1zM9 14h1v1h-1zM5 15h1v1h-1zM7 15h1v1h-1zM15 15h1v1h-1z" fill="#20d060"/><path d="M5 0h1v1h-1zM4 1h1v1h-1zM6 1h1v1h-1zM7 1h1v1h-1zM7 2h1v1h-1zM0 4h1v1h-1zM7 4h1v1h-1zM0 5h1v1h-1zM2 5h1v1h-1zM12 5h1v1h-1zM4 6h1v1h-1zM4 7h1v1h-1zM7 7h1v1h-1zM4 9h1v1h-1zM8 9h1v1h-1zM0 10h1v1h-1zM3 10h1v1h-1zM15 10h1v1h-1zM2 12h1v1h-1zM3 12h1v1h-1zM13 12h1v1h-1zM5 13h1v1h-1zM0 14h1v1h-1zM10 14h1v1h-1zM11 14h1v1h-1zM12 14h1v1h-1zM13 14h1v1h-1zM14 14h1v1h-1zM6 15h1v1h-1zM11 15h1v1h-1z" fill="#18c018"/><path d="M7 0h1v1h-1zM1 1h1v1h-1zM5 1h1v1h-1zM11 1h1v1h-1zM12 1h1v1h-1zM15 1h1v1h-1zM0 2h1v1h-1zM2 2h1v1h-1zM4 2h1v1h-1zM8 2h1v1h-1zM9 2h1v1h-1zM2 3h1v1h-1zM4 3h1v1h-1zM6 3h1v1h-1zM9 3h1v1h-1zM12 3h1v1h-1zM13 3h1v1h-1zM1 4h1v1h-1zM5 4h1v1h-1zM8 4h1v1h-1zM10 4h1v1h-1zM12 4h1v1h-1zM13 4h1v1h-1zM3 5h1v1h-1zM4 5h1v1h-1zM5 5h1v1h-1zM6 5h1v1h-1zM9 5h1v1h-1zM14 5h1v1h-1zM0 6h1v1h-1zM1 6h1v1h-1zM5 6h1v1h-1zM14 6h1v1h-1zM15 6h1v1h-1zM11 7h1v1h-1zM13 7h1v1h-1zM15 7h1v1h-1zM2 8h1v1h-1zM3 8h1v1h-1zM11 8h1v1h-1zM5 9h1v1h-1zM7 9h1v1h-1zM1 10h1v1h-1zM2 10h1v1h-1zM4 10h1v1h-1zM9 10h1v1h-1zM10 10h1v1h-1zM13 10h1v1h-1zM14 10h1v1h-1zM1 11h1v1h-1zM2 11h1v1h-1zM3 11h1v1h-1zM6 11h1v1h-1zM11 11h1v1h-1zM15 11h1v1h-1zM0 12h1v1h-1zM1 12h1v1h-1zM10 12h1v1h-1zM2 13h1v1h-1zM4 13h1v1h-1zM6 13h1v1h-1zM9 13h1v1h-1zM14 13h1v1h-1zM15 13h1v1h-1zM15 14h1v1h-1zM0 15h1v1h-1zM2 15h1v1h-1zM3 15h1v1h-1zM8 15h1v1h-1zM14 15h1v1h-1z" fill="#30e0e0"/></pattern></defs><g shape-rendering="crispEdges"><polygon points="421.0,496.0 434.0,493.0 442.0,493.6 450.0,495.0 459.9,493.0 462.9,486.0 461.5,479.0 467.9,476.0 477.9,478.0 489.9,479.0 497.9,482.0 505.9,484.0 513.9,485.0 518.9,488.0 518.9,494.0 525.9,497.0 532.9,501.0 533.9,503.9 528.9,507.9 524.9,510.9 531.9,512.9 535.8,513.9 536.8,519.9 533.9,525.9 535.8,531.9 535.8,537.9 529.9,540.9 521.9,543.9 515.9,547.9 513.9,543.9 518.9,538.9 509.9,536.9 503.9,537.9 497.9,536.9 491.9,534.9 487.9,531.9 479.9,530.9 469.9,529.9 461.9,528.9 453.9,528.9 446.0,525.9 438.0,525.9 432.0,527.9 428.0,529.9 422.0,531.9 414.0,530.9 414.0,527.9 421.0,525.9 418.0,517.9 417.0,509.9 417.0,502.9 421.0,499.0" fill="url(#pG)"/><polygon points="421.0,496.0 434.0,493.0 442.0,493.6 450.0,495.0 448.0,499.0 440.0,499.0 432.0,499.0 424.0,500.0 420.0,502.9 419.0,509.9 420.0,517.9 422.0,525.9 416.0,528.9 414.0,527.9 418.0,519.9 417.0,509.9 417.0,502.9" fill="url(#pC)"/><polygon points="440.0,498.0 451.9,497.0 461.9,496.0 469.9,494.0 475.9,500.0 477.9,511.9 479.9,523.9 475.9,527.9 467.9,527.9 459.9,525.9 453.9,523.9 451.9,519.9 455.9,515.9 450.0,509.9 446.0,503.9 440.0,501.9" fill="url(#pGd)"/><polygon points="427.0,518.0 440.0,517.0 450.0,518.0 460.0,517.0 469.9,518.0 479.9,520.0 487.9,524.0 489.9,529.0 479.9,530.9 469.9,530.0 460.0,530.9 452.0,531.9 443.0,533.9 440.0,535.9 438.0,531.9 435.0,527.0 430.0,524.0 427.0,521.0" fill="url(#pG)"/><polygon points="430.0,504.0 436.0,503.0 440.0,508.0 447.0,514.5 446.0,517.5 440.0,518.5 435.0,518.5 431.0,517.0 430.5,512.0" fill="#fcfcfc"/><polygon points="413.0,529.0 420.0,527.0 427.0,526.0 433.0,527.0 435.0,530.0 430.0,533.9 425.0,536.9 420.0,533.9 415.0,531.9" fill="url(#pC)"/><polygon points="421.0,528.0 427.0,527.0 432.0,528.0 433.0,530.0 429.0,532.9 425.0,534.9 422.0,531.9" fill="url(#pG)"/><polygon points="424.0,536.9 430.0,535.9 435.0,536.9 437.0,539.9 433.0,541.9 428.0,540.9 425.0,539.4" fill="url(#pG)"/><polygon points="443.0,519.0 452.0,518.5 458.0,518.0 455.0,520.0 448.0,520.5" fill="#fcfcfc"/><polygon points="442.0,526.0 450.0,525.5 455.0,526.5 452.0,528.0 445.0,528.0" fill="#fcfcfc"/><polygon points="435.0,538.9 438.0,538.9 440.0,540.9 438.0,542.4 435.5,541.4" fill="url(#pC)"/><polygon points="469.9,486.0 481.9,483.0 491.9,486.0 499.9,490.0 503.9,496.0 507.9,500.0 513.9,503.9 517.9,508.9 521.9,515.9 520.9,523.9 523.9,529.9 521.9,534.9 513.9,536.9 503.9,536.9 493.9,534.9 488.9,531.9 483.9,527.9 478.9,523.9 475.9,517.9 477.9,509.9 475.9,501.9 472.9,494.0" fill="url(#pGO)"/><polygon points="485.9,515.9 497.9,517.9 509.9,521.9 517.9,525.9 519.9,531.9 509.9,533.9 497.9,531.9 489.9,527.9 485.9,521.9" fill="url(#pO)"/><polygon points="491.9,512.3 497.9,511.5 503.9,513.9 499.9,515.9 493.9,515.5" fill="#fcfcfc"/><polygon points="517.9,519.9 523.9,517.9 527.9,519.9 523.9,522.9 518.9,522.9" fill="#fcfcfc"/><polygon points="487.9,528.9 491.9,529.9 492.3,531.5 488.9,531.5" fill="#fcfcfc"/><polygon points="446.0,543.9 455.9,539.9 465.9,540.9 475.9,543.9 489.9,545.9 497.9,544.9 505.9,547.9 513.9,550.9 523.9,551.9 529.9,555.9 527.9,558.9 517.9,559.9 507.9,559.9 497.9,558.9 489.9,555.9 477.9,551.9 467.9,550.9 457.9,549.9 450.0,547.9" fill="url(#pG)"/><polygon points="459.9,541.9 469.9,542.3 481.9,545.5 493.9,547.9 503.9,549.9 513.9,552.3 521.9,554.3 523.9,557.5 513.9,557.9 501.9,557.5 491.9,554.9 481.9,551.5 469.9,549.5 460.9,547.9" fill="url(#pGO)"/><polygon points="469.9,544.9 479.9,545.9 489.9,548.9 499.9,551.9 503.9,554.9 493.9,554.9 483.9,551.9 473.9,548.9" fill="url(#pY)"/><polygon points="456.9,555.9 465.9,554.9 477.9,556.9 489.9,559.9 497.9,562.9 501.9,565.9 497.9,568.9 489.9,569.9 479.9,568.9 469.9,568.9 462.9,565.9 457.9,560.9" fill="url(#pG)"/><polygon points="459.9,556.9 469.9,556.3 479.9,558.3 489.9,560.9 495.9,563.9 491.9,566.9 481.9,566.9 471.9,565.9 463.9,563.9 460.9,559.9" fill="url(#pOY)"/><polygon points="473.9,569.9 485.9,571.9 495.9,572.9 505.9,571.9 517.9,570.9 525.9,572.9 527.9,576.9 521.9,577.9 509.9,576.9 497.9,575.9 489.9,575.9 481.9,575.9 475.9,573.9" fill="url(#pG)"/><polygon points="476.9,570.9 485.9,572.3 493.9,573.9 503.9,572.9 513.9,571.9 523.9,573.5 524.9,576.3 513.9,575.9 501.9,575.1 489.9,574.9 479.9,574.3" fill="url(#pOY)"/><polygon points="479.9,577.9 489.9,578.9 499.9,580.9 507.9,582.9 509.9,585.8 501.9,585.8 493.9,583.9 485.9,581.9 480.9,579.9" fill="url(#pG)"/><polygon points="483.9,578.9 493.9,579.9 501.9,581.9 505.9,583.9 497.9,584.3 489.9,582.3" fill="url(#pGO)"/><polygon points="513.9,579.9 519.9,579.9 523.9,580.9 521.9,582.9 515.9,582.3" fill="url(#pGO)"/><polygon points="502.9,597.8 513.9,599.8 519.9,602.8 511.9,604.2 503.9,602.8 497.9,599.8" fill="url(#pG)"/><polygon points="505.9,599.8 513.9,600.8 517.9,602.8 510.9,603.4" fill="url(#pGO)"/><polygon points="507.9,478.0 517.9,475.0 521.9,472.0 527.9,469.0 532.9,472.0 531.9,476.0 525.9,479.0 524.9,484.0 521.9,487.0 515.9,486.0 509.9,482.0" fill="url(#pG)"/><polygon points="517.9,475.0 521.9,472.0 527.9,469.0 532.9,472.0 531.9,476.0 526.9,478.4 521.9,479.0" fill="url(#pC)"/><polygon points="529.9,551.9 532.9,549.9 534.9,551.9 532.9,553.5" fill="url(#pG)"/><polygon points="559.8,526.9 562.8,525.9 563.8,528.9 560.8,529.5" fill="url(#pG)"/><polygon points="429.0,551.9 431.0,551.5 431.6,553.5 429.6,553.9" fill="url(#pG)"/><polygon points="337.9,250.1 343.5,247.9 350.2,249.0 354.7,245.6 359.2,249.0 357.0,253.5 357.0,260.2 352.5,261.3 346.9,260.2 342.4,255.7 339.0,253.5" fill="url(#pLB)"/><polygon points="339.0,273.7 343.5,273.3 344.6,276.0 340.1,276.4" fill="url(#pLB)"/><polygon points="351.3,274.8 354.7,274.4 355.8,277.3 352.0,277.8" fill="url(#pLB)"/><polygon points="349.1,281.6 357.0,280.4 366.0,282.7 372.7,286.1 379.4,290.6 385.1,295.1 389.6,300.7 392.9,306.3 394.0,313.0 390.7,317.5 387.3,320.9 385.1,324.3 382.8,326.5 386.2,329.9 388.4,334.4 389.6,340.0 394.0,342.2 396.3,345.6 395.2,350.1 397.4,354.6 399.7,359.1 401.9,365.8 404.2,370.3 404.2,376.0 398.5,377.1 392.9,374.8 386.2,374.8 380.6,372.6 377.2,365.8 371.6,362.5 369.3,356.9 371.6,352.4 370.4,345.6 369.3,338.9 366.0,332.1 366.0,327.6 364.8,323.1 362.6,316.4 359.2,308.5 357.0,302.9 348.0,297.3 346.9,293.9 350.2,290.6 350.2,286.1" fill="url(#pG)"/><polygon points="349.1,281.6 357.0,280.4 366.0,282.7 372.7,286.1 374.9,288.3 366.0,288.3 359.2,291.7 354.7,296.2 357.0,302.9 348.0,297.3 346.9,293.9 350.2,290.6 350.2,286.1" fill="url(#pC)"/><polygon points="363.7,302.9 374.9,301.8 383.9,305.2 388.4,311.9 383.9,318.7 374.9,316.4 368.2,311.9" fill="url(#pGd)"/><polygon points="368.2,327.6 379.4,326.5 386.2,334.4 390.7,345.6 395.2,354.6 397.4,363.6 399.7,372.6 392.9,372.6 386.2,365.8 379.4,356.9 374.9,347.9 371.6,338.9" fill="url(#pGd)"/><polygon points="369.3,356.9 371.6,352.4 374.9,356.9 378.3,363.6 383.9,370.3 386.2,374.8 380.6,372.6 377.2,365.8 371.6,362.5" fill="url(#pC)"/><polygon points="407.5,372.6 413.1,368.1 416.5,362.5 422.1,361.3 425.5,365.8 427.8,370.3 431.1,377.1 435.6,374.8 440.1,376.0 449.1,374.8 460.3,376.0 467.1,376.6 470.4,380.4 473.8,383.8 480.6,384.9 482.8,389.4 481.7,393.9 473.8,392.8 464.8,391.7 455.8,391.7 446.9,391.7 440.1,390.6 433.4,388.3 426.6,386.1 419.9,383.8 413.1,380.4 408.7,377.1" fill="url(#pG)"/><polygon points="410.9,372.6 416.5,365.8 422.1,364.7 425.5,372.6 428.9,380.4 424.4,383.8 417.6,381.6 412.0,377.1" fill="url(#pGd)"/><polygon points="442.4,384.9 455.8,384.3 469.3,383.8 476.1,383.8 481.0,386.1 481.9,393.3 473.8,392.4 464.8,391.7 455.8,391.7 446.9,391.0 441.2,388.8" fill="url(#pCG)"/><polygon points="464.8,386.1 473.8,385.6 480.6,386.5 481.9,392.8 473.8,391.9 466.0,390.6" fill="url(#pC)"/><polygon points="428.9,361.3 435.6,363.6 440.1,368.1 442.4,371.5 437.9,372.6 433.4,369.2 430.0,365.8" fill="url(#pG)"/><polygon points="385.1,388.3 390.7,387.2 395.2,390.6 401.9,395.1 407.5,398.4 409.8,404.0 412.0,410.8 413.1,416.4 406.4,417.5 399.7,413.0 394.0,406.3 390.7,399.6 387.3,395.1" fill="url(#pCG)"/><polygon points="395.2,397.3 401.9,397.3 406.4,401.8 408.7,408.5 407.5,414.2 401.9,410.8 397.4,405.2" fill="url(#pG)"/><polygon points="415.4,389.4 422.1,390.1 426.6,392.8 424.4,395.1 417.6,393.9" fill="url(#pCG)"/><polygon points="422.1,413.0 427.8,413.0 428.9,415.3 423.3,415.7" fill="url(#pC)"/><polygon points="517.0,384.0 519.0,383.0 520.0,387.0 523.0,389.5 528.0,391.0 532.0,394.0 537.0,398.0 540.4,401.0 541.4,404.0 544.9,405.5 548.4,408.0 547.9,409.5 543.9,409.5 540.0,408.5 536.0,407.0 530.0,406.0 525.0,405.5 519.0,406.0 514.0,403.5 510.0,401.0 508.0,399.0 510.0,396.5 514.0,397.5 516.5,395.5 517.0,391.0" fill="url(#pLB)"/><polygon points="517.0,384.0 519.0,383.0 520.0,387.0 523.0,389.5 528.0,393.0 532.0,398.0 530.0,402.0 525.0,400.0 520.0,396.0 517.0,392.0" fill="url(#pCG)"/><polygon points="522.0,394.0 528.0,395.0 534.0,399.0 538.0,402.0 540.0,404.0 536.0,405.0 530.0,404.0 524.0,401.0" fill="url(#pC)"/><polygon points="524.5,407.5 530.0,407.0 535.0,408.0 539.0,412.0 541.9,416.0 542.9,420.0 545.9,424.4 546.4,427.4 542.9,428.4 539.5,427.9 536.0,424.4 532.0,420.9 528.5,418.0 525.5,415.0 524.5,411.0" fill="url(#pLB)"/><polygon points="532.0,415.0 537.0,416.0 540.9,418.0 542.4,420.9 540.0,421.9 536.0,420.0 533.0,418.0" fill="url(#pCG)"/><polygon points="540.4,412.5 543.9,412.5 544.4,414.5 540.9,414.5" fill="url(#pLB)"/><polygon points="547.9,428.9 550.4,427.4 553.9,429.9 556.9,432.4 558.9,435.4 555.9,435.9 551.9,433.9 548.9,431.9" fill="url(#pC)"/><polygon points="490.5,424.4 493.0,424.4 493.0,426.9 490.5,426.9" fill="url(#pC)"/><polygon points="498.0,429.9 500.0,429.9 500.0,431.4 498.0,431.4" fill="url(#pC)"/><polygon points="635.0,303.7 647.5,301.2 659.9,300.0 669.9,301.2 679.9,302.5 687.4,305.0 691.1,308.7 691.9,315.0 682.4,316.2 669.9,317.5 659.9,316.2 650.0,317.5 640.0,318.7 635.0,321.2 636.2,312.5" fill="url(#pG)"/><polygon points="637.5,311.2 652.4,308.7 669.9,310.0 684.9,313.7 669.9,315.0 652.4,316.2 637.5,317.5" fill="url(#pGO)"/><polygon points="610.0,301.2 618.7,301.2 620.0,305.0 612.5,307.0 610.0,306.2" fill="url(#pG)"/><polygon points="677.4,290.0 684.9,290.0 684.9,293.0 678.7,293.5" fill="url(#pC)"/><polygon points="669.9,293.7 675.4,293.7 675.4,297.5 670.4,297.5" fill="url(#pG)"/><polygon points="714.9,310.0 719.9,309.5 723.6,315.0 726.1,322.5 727.4,328.7 732.3,334.9 738.6,341.2 739.8,344.9 734.8,346.2 727.4,343.7 719.9,338.7 716.1,334.9 717.4,330.0 714.9,325.0 716.1,317.5" fill="url(#pOY)"/><polygon points="747.3,336.2 757.3,336.2 763.6,339.9 762.3,346.2 757.3,351.2 758.6,358.7 756.1,364.9 751.1,362.4 746.1,358.7 741.1,354.9 738.6,351.2 744.8,349.9 749.8,344.9" fill="url(#pY)"/><polygon points="782.3,361.2 791.0,361.2 791.0,364.9 783.5,365.4" fill="url(#pOY)"/><polygon points="762.3,363.7 768.6,362.9 769.8,368.7 763.6,370.4" fill="url(#pY)"/><polygon points="769.8,367.4 774.8,367.4 774.8,369.9 770.3,369.9" fill="url(#pOY)"/><polygon points="769.8,374.9 776.0,374.4 777.8,378.6 772.3,380.4" fill="url(#pY)"/><polygon points="767.3,389.9 773.5,387.9 777.3,392.4 784.8,396.1 788.5,399.9 782.3,400.4 777.3,398.6 774.8,402.4 771.0,399.9 767.8,394.9" fill="url(#pOY)"/><polygon points="714.9,347.4 722.4,346.2 729.9,348.7 737.3,353.7 739.8,359.9 746.1,364.9 749.8,371.1 744.8,372.4 737.3,368.7 732.3,362.4 727.4,356.2 719.9,352.4 714.4,350.4" fill="url(#pG)"/><polygon points="727.4,349.9 733.6,352.4 738.6,358.7 734.8,362.4 729.9,357.4" fill="url(#pGO)"/><polygon points="719.9,364.9 727.4,362.4 734.8,363.7 739.8,367.4 741.1,373.6 737.3,378.6 729.9,379.9 723.6,378.6 719.9,372.4" fill="url(#pG)"/><polygon points="723.6,366.2 732.3,364.9 737.3,369.9 736.1,376.1 728.6,377.4 723.6,373.6" fill="url(#pGO)"/><polygon points="729.9,379.9 739.8,379.9 749.8,381.1 756.1,384.9 757.3,389.9 749.8,389.9 742.3,387.4 734.8,386.1 731.1,383.6" fill="url(#pG)"/><polygon points="737.3,381.9 747.3,382.4 753.6,386.1 748.6,388.1 739.8,386.1" fill="url(#pGO)"/><polygon points="621.2,351.2 630.0,349.9 637.5,356.2 641.2,362.4 637.5,366.2 631.2,364.9 625.0,358.7 621.2,354.9" fill="url(#pG)"/><polygon points="651.2,366.2 659.9,364.9 669.9,367.4 679.9,372.4 689.9,377.4 697.4,383.6 699.9,389.9 698.6,399.9 692.4,401.1 682.4,399.9 672.4,398.6 662.4,394.9 654.9,389.9 650.0,386.1 652.4,379.9 656.2,376.1 653.7,371.1" fill="url(#pG)"/><polygon points="664.9,372.4 674.9,374.9 684.9,379.9 692.4,387.4 694.9,394.9 684.9,396.1 674.9,392.4 667.4,387.4 662.4,379.9" fill="url(#pGd)"/><polygon points="674.9,384.9 684.9,386.1 692.4,392.4 687.4,396.1 677.4,393.6" fill="url(#pGO)"/><polygon points="717.4,397.4 724.9,396.1 732.3,401.1 737.3,407.4 739.8,416.1 736.1,422.3 729.9,419.8 724.9,414.8 721.1,408.6 717.4,402.4" fill="url(#pG)"/><polygon points="722.4,401.1 729.9,403.6 734.8,409.9 736.1,416.1 731.1,416.1 726.1,409.9" fill="url(#pGO)"/><polygon points="701.1,401.1 709.9,402.4 717.4,406.1 714.9,409.4 706.1,407.4" fill="url(#pG)"/><polygon points="793.5,432.3 798.5,433.6 797.8,436.1 794.3,435.3" fill="#88a028"/><polygon points="651.3,415.7 661.5,413.5 672.7,412.4 681.7,410.1 695.2,409.0 706.4,411.2 715.4,415.7 722.1,422.5 723.3,431.5 719.9,439.3 714.3,443.8 724.4,448.3 733.4,450.6 742.4,448.3 746.9,443.8 752.5,448.3 760.3,457.3 769.3,465.2 778.3,477.5 782.8,487.6 787.3,498.9 785.1,505.6 783.5,509.7 791.6,516.2 798.1,521.1 804.6,527.6 808.0,534.2 810.0,543.8 787.3,543.8 769.3,540.4 751.3,538.2 737.9,534.8 728.9,534.8 719.9,536.0 710.9,534.8 701.9,536.0 695.2,533.7 688.4,530.3 687.3,524.7 682.8,516.9 677.2,507.9 676.1,502.2 678.3,498.9 672.7,494.4 672.7,487.6 663.7,486.5 654.7,483.1 649.1,477.5 648.0,471.9 652.5,467.4 658.1,460.7 657.0,453.9 655.8,444.9 657.0,436.0 654.7,427.0 651.3,420.2" fill="url(#pG)"/><polygon points="657.0,436.0 666.0,433.7 674.9,436.0 677.2,444.9 674.9,453.9 666.0,456.2 659.2,451.7" fill="url(#pGd)"/><polygon points="746.9,451.7 755.8,456.2 764.8,467.4 773.8,478.7 778.3,489.9 773.8,496.6 764.8,498.9 755.8,494.4 751.3,485.4 749.1,471.9" fill="url(#pGd)"/><polygon points="674.9,433.7 683.9,422.5 688.4,413.5 697.4,410.1 708.7,413.5 717.6,420.2 722.1,429.2 718.8,439.3 710.9,443.8 704.2,447.2 708.7,451.7 719.9,458.4 728.9,465.2 737.9,469.7 742.4,476.4 744.6,485.4 742.4,492.1 735.6,494.4 726.6,494.4 719.9,489.9 713.1,485.4 704.2,483.1 699.7,474.2 697.4,465.2 695.2,456.2 688.4,449.4 681.7,444.9 677.2,440.4" fill="url(#pGO)"/><polygon points="719.9,505.6 731.1,505.6 742.4,507.9 755.8,507.9 769.3,510.1 782.8,512.4 794.0,516.9 805.3,523.6 810.0,529.2 810.0,543.8 787.3,543.8 769.3,540.4 755.8,538.9 746.9,534.8 735.6,532.6 726.6,525.8 722.1,516.9" fill="url(#pGO)"/><polygon points="718.8,401.1 718.8,400.0 717.6,400.0" fill="#fcfcfc"/><polygon points="718.8,400.0 728.9,401.1 735.6,406.7 740.1,414.6 735.6,421.3 728.9,419.1 723.3,412.4 719.9,405.6" fill="url(#pG)"/><polygon points="633.4,455.1 636.7,455.1 637.2,458.4 633.4,458.9" fill="url(#pG)"/><polygon points="643.5,457.3 647.5,457.3 648.0,460.7 643.9,460.7" fill="url(#pG)"/><polygon points="648.0,491.0 652.5,491.0 654.7,495.5 650.7,496.6" fill="url(#pG)"/><polygon points="791.8,431.5 797.4,431.5 798.5,435.5 793.6,436.0" fill="url(#pG)"/><polygon points="763.7,455.1 767.5,455.1 767.5,458.9 763.9,458.9" fill="url(#pG)"/><polygon points="790.7,467.4 794.0,467.4 794.0,471.5 790.9,471.5" fill="url(#pG)"/><polygon points="630.0,470.0 630.3,470.0 630.3,470.3" fill="#fcfcfc"/><polygon points="659.7,426.2 668.1,425.3 677.4,423.4 684.9,424.3 683.1,428.1 675.6,430.9 668.1,431.8 661.5,430.9" fill="#fcfcfc"/><polygon points="675.6,434.6 683.1,435.6 686.8,440.2 683.1,442.1 677.4,440.2" fill="#fcfcfc"/><polygon points="659.7,447.7 670.0,448.7 679.3,451.5 683.1,454.3 677.4,456.2 668.1,454.3 660.6,452.4" fill="#fcfcfc"/><polygon points="668.1,463.6 677.4,461.8 684.9,463.6 688.7,467.4 683.1,470.2 673.7,469.3 669.0,467.4" fill="#fcfcfc"/><polygon points="683.1,456.2 690.5,456.2 696.2,461.8 696.2,467.4 690.5,469.3 686.8,463.6" fill="#fcfcfc"/><polygon points="674.6,478.6 684.9,482.4 692.4,486.1 696.2,493.6 690.5,497.3 683.1,495.5 677.4,489.9 674.6,484.2" fill="#fcfcfc"/><polygon points="701.8,467.4 711.1,471.1 714.9,474.9 711.1,478.6 703.6,476.8" fill="#fcfcfc"/><polygon points="703.6,480.5 714.9,484.2 720.5,488.0 718.6,491.7 709.3,489.9 703.6,486.1" fill="#fcfcfc"/><polygon points="714.9,452.4 722.4,450.5 731.7,452.4 737.3,456.2 733.6,459.9 724.2,458.0 716.8,456.2" fill="#fcfcfc"/><polygon points="713.0,459.9 720.5,461.8 728.0,464.6 733.6,467.4 729.9,470.2 720.5,468.3 713.9,464.6" fill="#fcfcfc"/><polygon points="733.6,461.8 741.1,459.9 744.8,465.5 743.0,474.9 737.3,478.6 734.5,473.0" fill="#fcfcfc"/><polygon points="703.6,504.8 713.0,503.0 720.5,508.6 728.0,516.1 724.2,519.8 714.9,516.1 706.5,512.3" fill="#fcfcfc"/><polygon points="729.9,504.8 737.3,504.8 741.1,510.4 737.3,516.1 732.7,512.3" fill="#fcfcfc"/><polygon points="733.6,521.7 739.2,519.8 742.0,527.3 737.3,531.0 734.5,527.3" fill="#fcfcfc"/><polygon points="640.0,486.1 647.5,488.0 655.0,497.3 651.2,501.1 643.7,497.3 640.0,493.6" fill="#fcfcfc"/><polygon points="726.1,480.5 733.6,482.4 739.2,486.1 735.5,489.9 728.0,488.0" fill="#fcfcfc"/><polygon points="645.6,443.1 651.2,442.1 656.8,444.9 655.0,448.7 647.5,449.0" fill="#fcfcfc"/><polygon points="751.1,504.9 773.8,501.6 783.5,509.7 791.6,516.2 798.1,521.1 804.6,527.6 807.9,534.1 814.4,538.9 820.9,545.4 824.1,551.9 830.6,555.2 837.1,556.8 843.6,559.2 848.4,563.3 853.3,569.8 851.7,576.2 846.8,575.4 841.9,576.2 838.7,579.5 841.9,584.4 846.8,587.6 845.2,592.5 848.4,597.3 851.7,603.8 850.1,610.3 846.8,613.6 840.3,616.8 835.5,620.1 832.2,616.8 827.3,610.3 820.9,605.5 817.6,600.6 816.0,595.7 812.7,590.9 807.9,586.0 803.0,582.7 798.1,576.2 795.7,569.8 794.9,561.6 795.7,553.5 794.9,547.0 791.6,543.8 785.2,543.0 778.7,547.0 773.8,545.4 768.9,540.6 762.4,537.3 754.3,538.1 746.2,538.9 739.7,538.9 733.2,535.7 730.0,532.4" fill="url(#pOY)"/><polygon points="794.9,532.4 803.0,537.3 811.1,543.8 817.6,550.3 824.1,556.0 833.8,559.2 843.6,562.5 848.4,568.1 843.6,573.0 837.1,576.2 835.5,581.1 840.3,587.6 841.9,594.1 845.2,600.6 843.6,608.7 837.1,613.6 832.2,611.9 827.3,605.5 822.5,600.6 819.2,594.1 814.4,587.6 806.2,581.1 801.4,574.6 799.8,564.9 799.8,553.5 798.1,545.4" fill="url(#pY)"/><polygon points="730.0,532.4 730.0,509.7 751.1,504.9 757.6,509.7 756.0,522.7 754.3,538.1 746.2,538.9 739.7,538.9 733.2,535.7" fill="url(#pGO)"/><polygon points="754.3,506.5 773.8,502.4 780.3,509.7 783.5,517.8 780.3,527.6 773.8,535.7 767.3,538.1 756.0,538.1 756.8,522.7" fill="url(#pO)"/><polygon points="777.0,582.7 781.9,579.5 786.8,574.6 791.6,576.2 790.0,582.7 798.1,586.0 806.2,587.6 809.5,592.5 804.6,595.7 801.4,599.0 796.5,597.3 791.6,594.1 785.2,590.9 780.3,587.6" fill="url(#pOY)"/><polygon points="777.0,551.9 779.5,551.6 780.6,558.4 777.9,558.7" fill="url(#pOY)"/><polygon points="827.3,547.0 829.8,546.7 833.8,551.9 833.0,555.2 830.6,554.3" fill="url(#pOY)"/><polygon points="835.5,578.7 838.7,578.2 840.3,581.1 837.4,581.9" fill="#fcfcfc"/><polygon points="798.1,543.0 801.4,543.0 801.4,546.2 798.1,546.2" fill="#fcfcfc"/><polygon points="803.8,554.3 806.2,554.8 809.5,558.4 807.1,559.7 804.3,557.1" fill="url(#pG)"/><polygon points="824.1,564.1 826.5,564.1 826.9,566.5 824.4,566.5" fill="url(#pG)"/><polygon points="816.0,613.6 819.2,613.6 820.0,616.8 816.8,617.1" fill="url(#pOY)"/><polygon points="801.8,544.9 805.4,544.9 805.4,548.5 801.8,548.5" fill="url(#pG)"/><polygon points="824.3,552.4 827.3,552.4 827.3,555.4 824.3,555.4" fill="url(#pG)"/><polygon points="831.8,571.8 837.8,573.3 842.2,577.8 837.8,580.8 833.3,578.4" fill="#fcfcfc"/><polygon points="776.3,550.9 780.8,550.9 780.8,558.4 777.2,558.4" fill="url(#pG)"/><polygon points="822.8,643.7 829.7,643.7 830.8,650.6 833.1,655.1 831.9,658.5 837.6,659.7 842.2,663.1 846.8,667.7 851.3,670.0 853.6,673.4 853.6,678.0 857.1,681.4 860.5,685.9 860.5,690.5 857.1,693.9 853.6,691.7 852.5,687.1 851.3,683.7 849.1,680.2 846.8,676.8 842.2,675.7 837.6,678.0 834.2,681.4 830.8,682.5 823.9,682.5 820.5,680.2 818.2,675.7 817.1,671.1 817.1,666.5 819.4,662.0 820.5,657.4 821.7,650.6" fill="url(#pY)"/><polygon points="823.9,644.8 828.5,644.8 829.7,652.8 831.9,657.4 835.4,662.0 839.9,666.5 837.6,671.1 833.1,673.4 828.5,672.2 825.1,667.7 822.8,659.7 822.2,651.7" fill="url(#pOY)"/><polygon points="794.3,668.8 798.8,667.7 803.4,670.0 808.0,671.1 811.4,670.0 813.7,673.4 814.8,678.0 812.5,681.4 808.0,683.7 805.7,687.1 802.2,688.2 800.0,685.9 797.7,681.4 795.4,678.0 794.3,673.4" fill="url(#pOY)"/><polygon points="845.6,649.4 851.3,646.6 854.8,648.3 859.3,651.7 862.8,654.0 866.8,655.1 865.0,659.7 860.5,664.3 860.5,668.8 858.2,670.0 854.8,666.5 851.3,666.5 847.9,664.3 845.6,660.8 844.5,656.3" fill="url(#pOY)"/><polygon points="849.1,652.8 854.8,651.7 860.5,655.1 862.8,657.4 859.3,662.0 855.9,664.3 851.3,663.1 847.9,659.7" fill="url(#pY)"/><polygon points="827.4,683.7 833.1,682.5 835.9,684.8 835.4,690.5 831.9,692.2 828.5,691.7 826.2,688.2" fill="url(#pY)"/><polygon points="842.2,640.3 845.6,640.3 846.2,643.7 843.4,644.3" fill="url(#pOY)"/><polygon points="835.4,652.8 838.2,653.4 838.8,655.7 835.9,656.3" fill="url(#pG)"/><polygon points="812.0,669.4 814.8,668.8 818.2,672.2 820.5,676.8 822.8,680.2 824.5,682.8 821.7,683.4 818.2,680.2 815.9,676.8 813.7,674.0" fill="url(#pG)"/><polygon points="813.7,671.7 815.4,671.3 817.7,675.1 819.4,678.5 818.2,679.1 816.2,676.2" fill="#fcfcfc"/><polygon points="828.5,652.8 830.8,652.3 833.1,655.7 835.4,658.5 833.1,659.5 830.2,657.4" fill="url(#pG)"/><polygon points="773.7,669.4 778.3,670.5 778.8,672.2 774.8,672.2" fill="url(#pG)"/><polygon points="764.0,682.0 768.6,681.4 771.4,685.9 768.0,687.7 764.6,684.8" fill="url(#pG)"/><polygon points="766.9,691.7 769.7,692.2 769.1,693.9 766.9,693.7" fill="url(#pG)"/><polygon points="781.1,693.9 786.3,692.2 790.8,695.7 789.7,699.7 787.4,703.1 782.8,699.7" fill="url(#pG)"/><polygon points="789.7,669.4 792.5,669.4 792.5,671.7 789.9,671.7" fill="url(#pOY)"/><polygon points="790.3,681.4 794.3,682.0 794.3,684.8 790.8,684.8" fill="url(#pOY)"/><polygon points="602.4,302.4 609.9,301.1 618.7,302.4 619.9,306.1 609.9,307.9 603.7,307.4" fill="url(#pG)"/><polygon points="602.4,302.4 609.9,301.1 611.2,304.4 604.4,304.9" fill="url(#pC)"/><polygon points="677.4,289.4 684.8,288.6 688.6,292.4 682.3,294.9 677.9,292.9" fill="url(#pC)"/><polygon points="683.6,292.4 688.6,291.9 689.3,296.1 684.3,296.4" fill="url(#pG)"/><polygon points="697.3,294.4 701.1,294.4 701.3,298.6 697.8,298.6" fill="url(#pG)"/><polygon points="610.0,575.0 613.0,574.0 614.0,577.0 611.0,578.0" fill="url(#pG)"/><polygon points="617.0,573.0 621.0,573.0 621.0,577.0 617.0,577.0" fill="url(#pG)"/><polygon points="727.0,203.0 733.0,201.0 741.0,202.0 745.0,207.0 744.0,214.0 741.0,220.0 736.0,219.0 731.0,213.0 728.0,208.0" fill="url(#pPk)"/><polygon points="748.0,229.0 751.0,225.0 754.0,224.0 753.0,229.0 749.0,230.0" fill="url(#pPk)"/></g><path d="M112.4 440 113.6 446.2 111.1 451.2 107.4 456.2 104.4 458.7 103.6 463.7 99.9 460 92.4 458.7 83.7 459.5 77.4 462.5 75.4 466.2 73.7 472.5 71.2 477.5 66.2 479.5 64.4 483.7 64.4 489.9 62.4 498.7 62.4 504.9 62.9 514.9 62.9 528.6 58.7 529.4 52.4 529.4 50 533.6 50 536.1 46.2 537.4 44.5 541.1 44.5 544.4 40 544.4 35 546.1 33 549.9 32 554.9 25 557.4 21.2 561.8 27.5 559.9 32 555.4 40 554.4 46.2 556.1 50 559.9 51.2 563.6 53.7 567.3 54.9 569.8 52.9 576.1 59.9 583.6 66.2 589.8 69.9 594.8 71.9 601 72.9 604.8 74.4 612.3 69.9 612.3 68.7 616 71.2 622.3 74.9 629.8 77.9 639.8 M111.2 439.8 111.2 429.8 111.7 419.8 113.7 409.8 116.2 402.3 116.9 397.3 115.4 389.8 115.4 383.6 114.4 376.1 114.9 368.6 118.7 364.8 122.4 359.9 126.9 352.4 131.2 344.9 136.2 337.4 139.9 333.6 144.9 327.4 149.9 322.4 156.1 320.6 163.6 319.4 171.1 318.9 177.4 318.2 181.1 319.4 178.6 321.1 181.1 319.4 182.3 314.9 183.6 307.4 184.8 299.9 186.1 292.4 187.3 286.2 189.3 284.4 186.1 283.7 184.8 280 189.8 277.5 192.3 278.7 192.3 273.7 193.6 267.5 193.6 260 194.8 255 196.1 253.7 192.3 252 184.8 252 183.6 248.7 187.3 244.5 192.3 241.2 193.6 240 M149.9 322.4 147.4 314.9 145.4 312.4 147.4 307.4 146.9 301.2 142.4 300.4 138.7 302.4 134.9 301.2 131.2 304.4 131.2 309.9 133.7 313.7 134.9 319.9 133.7 323.6 128.7 326.1 123.7 328.6 121.2 327.9 124.4 331.1 127.4 334.9 124.9 339.9 122.4 344.9 123.7 353.6 134.9 342.4 139.9 333.6 M109.2 419.3 111.7 419.8 M184.4 249.8 186.2 244.8 189.9 241.1 193.7 237.3 198.7 234.8 204.9 231.1 212.4 226.1 217.4 221.1 224.9 214.9 229.9 208.6 234.9 202.4 241.1 194.9 244.9 189.9 249.9 182.4 254.9 173.7 258.6 167.4 262.3 162.4 263.6 156.2 262.8 151.2 261.6 148.7 262.3 146.2 266.1 144.4 272.3 142.4 279.8 140.4 287.3 138.7 292.3 138 297.3 138.7 304.8 139.5 309.8 137.5 314.8 136.2 319.8 135 324.8 135 332.3 137 339.8 138.7 M244.9 189.9 239.9 184.9 237.4 181.1 234.9 178.7 227.4 174.9 219.9 169.9 217.9 164.9 221.1 161.2 226.1 160.4 231.1 163.7 233.6 169.9 238.6 173.7 241.1 179.9 246.1 186.1 247.4 187.9 M217.4 221.1 219.9 209.9 218.7 217.4 214.9 217.4 209.9 216.1 206.2 218.6 199.9 222.3 197.4 226.1 198.7 229.8 202.4 231.1 207.4 227.3 212.4 226.1 M184.4 249.8 182.4 244.8 181.9 236.1 183.7 227.3 185.4 218.6 187.4 221.1 188.7 232.3 192.4 238.6 M314.8 136.2 316 132.5 316 127.5 312.3 120 314.8 123.7 319.8 121.2 322.3 117.5 M316 163.7 316 168.7 M300 138.7 310 137.5 318.7 136.2 325 135 332.5 137.5 340 138.7 344.9 135 344.9 127.5 341.9 122.5 342.9 116.2 348.7 112 349.9 113.7 346.2 117.5 346.2 125 347.4 132.5 352.4 137.5 357.4 141.2 362.4 143.7 368.7 142.4 372.4 146.2 373.7 149.9 381.1 151.9 374.9 153.7 371.2 152.4 364.9 149.9 357.4 149.4 349.9 147.4 337.5 144.9 325 144.4 317.5 142.4 M316.2 143.7 322.5 149.9 328.7 158.7 332.5 162.4 M330 152.4 337.5 151.2 349.9 153.7 353.7 157.4 354.9 162.4 349.9 164.9 340 166.2 333.7 168.7 332.5 171.2 337.5 172.4 342.4 171.2 M320 174.9 327.5 177.4 340 179.9 354.9 183.6 367.4 186.9 377.4 191.1 387.4 193.6 399.9 195.4 412.4 196.9 426.1 198.6 407.4 197.9 404.9 196.1 M328.7 174.9 332.5 168.7 343.7 171.2 352.4 174.9 362.4 177.4 367.4 182.4 367.4 186.9 M388.6 192.4 394.9 189.9 407.4 188.6 419.9 187.4 422.3 184.9 423.6 188.6 429.8 186.1 433.6 181.1 434.8 186.1 438.6 187.4 442.3 191.1 447.3 192.4 449.8 196.1 454.8 194.9 457.3 189.9 461 186.1 463.5 191.1 463.5 199.9 464.8 204.9 473.5 206.1 469.8 209.9 468.5 216.1 466 211.1 462.3 209.9 458.6 213.6 449.8 218.6 442.3 222.3 436.1 224.8 432.3 221.1 431.1 227.3 422.3 231.1 414.9 236.1 409.9 242.3 402.4 247.3 394.9 249.8 387.4 254.8 383.6 259.8 386.1 264.8 391.1 268.5 394.9 269.8 402.4 267.3 409.9 264.8 417.4 264.8 422.3 266 426.1 268.5 432.3 274.8 436.1 279.8 439.8 286 447.3 282.3 454.8 284.8 458.6 289.8 461 297.3 M416.1 264.8 422.3 262.3 427.3 259.8 433.6 256.1 M440 284.9 445 281.9 450 281.2 455 284.9 458.7 289.9 461.2 294.9 463 301.2 463.7 307.4 463 313.7 460 316.2 458.7 319.9 458 324.9 458 329.9 457.5 337.4 455 338.6 451.2 339.9 447.5 342.4 448.7 346.1 452.5 347.9 457.5 349.9 462.5 351.1 465 356.1 468.7 358.6 472.5 361.8 477.5 361.1 483.7 361.1 489.9 361.1 496.2 359.4 499.9 357.4 501.2 352.4 504.9 349.9 511.2 347.4 513.7 343.6 516.2 338.6 519.9 332.4 524.9 328.6 531.1 323.6 536.1 321.1 542.4 319.4 547.4 319.4 552.4 318.7 556.1 317.4 559.9 316.2 563.6 316.2 567.3 319.9 569.8 317.4 571.1 312.4 573.6 307.4 578.6 304.4 583.6 302.4 586.1 305.4 587.3 299.9 589.8 292.4 596.1 287.9 603.5 287.4 611 289.9 616 294.9 617.3 299.4 622.3 299.4 628.5 297.4 633.5 295.4 639.8 295.4 M589.9 157.4 596.1 153.6 601.1 152.4 604.8 147.4 609.8 142.4 616.1 138.7 623.6 134.4 632.3 133.2 639.8 133.7 646 134.9 648.5 138.7 646 143.6 642.3 147.4 638.6 151.1 643.5 147.4 648.5 141.1 652.3 133.7 656 128.7 662.3 126.2 669.8 124.4 674.8 122.4 679.8 121.9 M561.2 231.2 570 243.7 580 257.4 592.5 269.9 M560 263.7 567.5 266.2 575 268.7 582.5 272.4 590 274.9 592.5 271.2 597.5 271.2 603.7 268.7 609.9 266.2 613.7 262.4 617.4 256.2 619.9 253.7 621.2 256.2 623.7 259.9 627.4 262.4 633.7 261.2 636.2 256.2 639.9 253.7 647.4 252.4 654.9 252.9 661.1 254.9 667.4 256.2 672.4 258.7 673.6 262.4 669.9 263.7 664.9 264.4 663.6 267.4 661.1 271.2 658.6 273.7 659.9 274.9 658.6 279.9 659.9 284.9 661.1 289.9 658.6 293.6 652.4 296.1 644.9 296.1 637.4 296.1 631.2 297.4 624.9 298.6 621.2 299.9 M674.9 268.7 679.9 264.9 684.8 259.9 686.1 257.4 689.8 256.2 694.8 257.4 698.6 259.9 703.6 261.2 709.8 263.7 719.8 266.2 727.3 266.2 734.8 262.4 738.5 258.7 740.3 254.9 M672.4 279.9 677.4 286.1 682.3 288.6 689.8 289.9 697.3 292.4 702.3 294.9 709.8 297.9 714.8 299.9 719.8 304.1 M673.6 279.9 672.4 276.2 673.6 272.4 677.4 271.2 684.8 272.4 692.3 273.7 698.6 272.4 699.8 268.7 698.6 266.2 M676.1 267.9 682.3 262.4 686.1 263.7 689.8 267.4 684.8 268.7 677.4 269.9 M704.8 274.9 709.8 269.9 714.8 270.7 721 271.2 717.3 272.9 712.3 274.4 707.3 276.2 704.8 274.9 M660 126.9 667.5 124.9 675 122.4 680 122.4 683.7 124.9 686.2 128.7 687.5 132.4 683.7 136.2 685 133.7 690 127.4 692.5 121.2 697.5 116.2 702.4 113.7 708.7 111.2 713.7 108.7 718.7 106.2 721.9 109.9 721.2 113.7 726.2 108.7 731.2 101.2 734.9 96.2 739.9 91.2 746.1 92 753.6 91.2 759.9 90 764.9 90 769.9 91.2 774.9 89.5 778.6 92.5 777.4 97 782.3 92.5 787.3 88.7 794.8 86.2 802.3 83.7 804.8 82 806.1 86.2 809.8 87.5 817.3 85 824.8 83 832.3 81.2 836 78.7 834.8 75 839.8 72.5 847.3 71.2 853.5 72 857.3 73.7 859.8 75 M859.8 97.5 852.3 97 846 96.2 842.3 98.7 838.5 102.4 834.8 104.9 832.3 106.2 827.3 109.9 819.8 112.4 809.8 113.7 804.8 113.7 801.1 116.2 798.6 119.9 797.3 124.9 798.6 128.7 803.6 129.9 809.8 131.2 812.3 132.4 809.8 134.9 803.6 135.7 797.3 134.9 792.3 132.4 789.8 128.7 793.6 125.4 796.1 123.7 791.1 127.4 786.1 129.9 779.9 131.2 774.9 133.7 769.9 135.7 762.4 136.2 756.1 134.4 752.4 132.4 749.9 130.7 753.6 133.7 756.1 139.9 758.6 146.1 761.1 152.4 764.9 158.6 768.6 163.6 769.9 159.9 774.9 159.9 779.9 162.4 784.8 166.1 788.6 171.1 789.8 174.9 788.6 178.6 787.8 184.8 783.6 187.3 779.9 196.1 777.4 204.8 776.1 199.8 777.4 194.8 773.6 194.3 769.9 196.1 766.1 201.1 763.6 207.3 762.4 214.8 761.1 221 757.4 226 752.4 227.3 747.4 229.8 743.6 232.3 742.4 239.8 741.9 249.8 740.4 259.8 M788.6 177.4 794.8 182.3 803.6 187.3 809.8 191.1 811.1 196.1 804.8 196.1 798.6 193.6 792.3 187.3 788.6 184.8 M788.6 112.4 791.1 113.7 M840 73.7 847.5 71.2 855 72.5 857.5 75 856.2 80 857.5 85 858.7 90 861.2 93.7 861.2 97.5 857.5 98.7 852.5 97.5 847.5 96.2 842.5 100 840 101.2 M720 303.7 722.5 310 726.2 318.7 730 327.5 735 331.2 740 332.9 746.2 334.4 751.2 335.4 756.2 332.4 755 327.5 758.7 328.7 762.4 333.7 765.4 336.2 764.9 339.9 769.9 342.4 773.7 343.7 774.9 342.4 773.7 346.2 778.7 349.9 782.4 356.2 786.2 359.4 791.2 360.4 796.2 362.9 802.4 363.7 809.9 366.2 816.1 368.7 822.4 369.9 826.1 371.1 828.6 376.1 829.9 381.1 834.9 383.6 839.9 384.9 842.3 388.6 842.8 391.9 846.1 392.4 849.8 397.4 856.1 403.6 862.3 409.9 867.3 414.8 871.1 418.6 873.6 423.6 878.6 428.6 882.3 433.6 887.3 438.6 891 442.3 896 446.1 901 449.8 903.5 454.8 904.8 458.5 909.8 461.8 914.8 462.3 919.8 464.8 M888.7 440 893.7 443.7 898.7 447.5 902.4 451.2 903.7 457.5 908.7 461.2 913.7 462.5 917.4 465 922.4 467 926.2 468 928.7 472.5 929.4 480 931.1 483.7 934.9 485.4 936.1 483.7 939.9 484.9 946.1 487.4 948.6 489.9 951.1 491.7 954.9 491.2 959.9 492.4 964.9 492.4 971.1 493.7 973.6 497.4 977.3 501.2 982.3 500.4 984.8 503.7 986.1 508.7 987.3 514.9 991.1 520.4 996.1 520.4 1002.3 522.4 1008.6 524.9 1012.3 528.6 1014.8 537.4 1016.8 547.4 1018.5 557.4 1020.3 562.3 1023.5 564.8 1024.8 572.3 1026 579.8 1029.3 583.6 1026.8 585.3 1027.8 589.8 1031 594.8 1033.5 599.8 1034.3 606 1034.8 614.8 1034.3 622.3 1032.3 627.3 1029.8 632.3 1024.8 636 1022.3 639.8 M1028.5 590 1032.3 597.5 1034.3 605 1034.8 612.5 1034.3 621.2 1031 628.7 1027.3 634.9 1022.3 637.4 1019.8 642.4 1017.8 649.9 1014.8 653.7 1011 658.7 1007.3 662.9 1002.3 663.7 997.3 668.7 992.3 672.4 987.3 677.4 979.8 679.9 974.8 681.9 971.1 681.1 967.4 683.6 963.6 688.6 959.9 691.1 954.9 692.9 949.9 696.1 946.1 696.9 941.1 696.1 936.1 699.9 932.4 703.6 927.4 705.4 921.2 707.9 916.2 707.4 913.7 703.6 909.9 702.9 904.9 704.4 898.7 703.6 897.4 701.1 893.7 699.4 888.7 699.1 885 699.9 881.2 698.6 878.7 694.9 875 691.1 871.2 689.4 867.5 690.4 863.7 693.6 860 696.9 856.2 694.9 852.5 692.9 850 692.4 M849.8 694.8 844.8 696.1 839.8 696.8 836 695.3 833.5 697.8 828.5 698.6 824.8 701.1 823.5 703.6 819.8 705.3 814.8 702.8 811 706.1 806.1 709.3 799.8 708.6 796.1 708.6 792.3 706.1 786.1 706.1 779.8 704.3 773.6 702.8 767.4 702.3 762.4 701.1 761.1 698.1 756.1 696.8 754.9 692.3 754.4 688.6 751.1 688.6 748.6 686.8 746.1 688.6 743.6 694.8 739.9 697.8 736.1 697.3 732.4 693.6 728.7 690.3 724.9 689.3 721.2 687.3 717.4 686.1 712.4 684.8 708.7 684.8 703.7 683.6 701.2 681.1 701.2 675.4 697.4 672.4 692.4 669.4 687.5 666.1 682.5 664.4 677.5 662.9 673.7 664.4 672.5 668.6 668.7 672.4 663.7 674.9 658.7 676.1 656.2 673.6 653.7 667.4 650 666.1 M649.8 666.1 646 662.3 642.3 657.4 639.3 651.9 638.5 646.1 639.3 639.9 636 633.6 632.3 629.9 628.5 626.9 624.8 627.9 619.8 629.9 613.5 632.4 607.3 634.9 601.1 638.1 597.3 637.4 592.3 634.9 586.1 631.1 579.8 627.4 576.1 623.6 574.8 619.9 572.3 616.2 569.4 612.4 567.4 607.4 567.9 601.2 569.9 599.4 573.6 599.4 574.8 597.9 572.3 596.9 568.6 597.4 564.9 596.9 563.6 593.7 561.1 591.2 557.4 590.7 556.1 593.7 554.9 597.9 551.1 602.4 546.1 605.4 539.9 605.4 534.9 606.2 529.9 605.4 524.9 603.7 519.9 604.4 514.9 604.4 511.2 605.4 507.4 603.7 502.4 603.7 494.9 602.4 490 601.9 485 602.4 480 602.9 476.2 601.4 471.2 601.2 465 600.4 458.7 599.9 453.7 598.7 450 599.4 M449.8 599.5 444.8 597.5 439.8 600 434.8 601.9 431 604.9 424.8 606.2 419.8 608.7 416 612.4 409.8 613.7 404.8 614.4 401.1 616.9 394.8 617.4 389.8 619.4 386.1 621.2 379.8 624.9 373.6 628.7 367.4 631.9 363.6 636.2 359.9 640.4 353.6 642.4 348.6 644.9 342.4 647.4 338.6 649.9 333.6 654.4 328.7 657.4 323.7 659.9 317.4 662.9 312.4 664.9 307.9 668.6 308.7 673.6 307.4 678.6 303.7 684.8 298.7 688.6 292.4 689.8 285 691.6 280 692.8 273.7 692.3 267.5 691.8 261.2 690.3 257.5 687.8 253.7 687.3 250 687.3 M63.7 590 70 595 72 601.2 72.5 611.2 70 612.5 69.5 617.5 72.5 625 76.2 633.7 80 641.2 85 647.4 92.5 653.7 100 657.9 108.7 662.4 117.4 666.9 126.2 670.4 134.9 673.6 142.4 676.1 146.1 677.4 144.9 681.1 143.6 686.1 142.4 692.4 139.4 697.4 139.9 699.9 M146.1 677.4 148.6 677.4 154.9 677.4 164.9 679.4 174.9 681.1 184.8 683.6 194.8 685.4 204.8 686.1 214.8 686.1 222.3 684.4 226 681.1 229.8 679.4 234.8 681.1 239.8 683.6 247.3 686.1 254.8 687.4 259.8 688.6 M106.2 699.9 108.7 697.4 108.7 692.4 108.7 697.4 111.2 703.6 117.4 704.4 123.7 703.6 127.4 705.4 131.2 702.4 137.4 699.9 139.9 699.9 144.9 704.9 149.9 708.6 154.9 712.3 158.6 716.1 162.4 719.8 164.9 724.8 169.9 723.6 174.9 724.8 179.9 723.6 187.3 722.3 194.8 724.8 202.3 724.3 206.1 726.1 203.6 729.3 197.3 727.8 189.8 728.6 184.8 729.8 179.9 728.6 174.9 729.8 169.9 731.1 164.9 733.6 154.9 734.3 144.9 736.1 137.4 737.3 132.4 741.1 126.2 744.8 124.9 748.6 128.7 751 134.9 753.5 141.1 752.3 147.4 753.5 151.1 756.8 147.4 759.8 144.9 762.3 139.9 763.5 132.4 762.3 124.9 761.8 117.4 763.5 109.9 761.8 102.4 761 95 759.8 87.5 759.8 80 761 72.5 762.3 M139.9 712.3 142.4 713.6 144.9 714.8 146.1 717.3 148.6 719.8 M107.4 743.6 108.7 746.1 107.4 748.6 M109.9 701.2 107.4 698.7 102.4 696.2 97.4 694.4 91.1 693.1 86.2 692.5 82.4 693.1 77.4 693.5 73.7 695.6 70.5 699.4 68.7 701.2 67.4 703.1 64.9 703.7 62.4 703.1 60.6 702.5 59.3 701.2 56.2 700.6 52.4 699.4 50 700 45 700.6 40 701.8 36.2 702.5 35 705 33.7 710 32.5 715 30.6 718.1 27.5 720 24.4 723.1 23.1 726.2 21.2 729.9 18.1 733.1 15 735.6 11.2 737.4 10 738.1 M10 756.4 11.2 756.2 15 754.9 18.7 753.7 21.2 754.3 22.5 758.7 21.9 761.1 25 764.3 30 766.8 35 768.6 38.7 769.3 42.5 768 47.5 768.6 52.4 768 56.2 766.1 58.1 763.6 59.9 762.4 61.2 761.8 57.4 761.1 54.9 759.9 52.4 754.9 50 752.4 49.3 749.3 52.4 748 56.2 748.7 62.4 749.3 67.4 750.5 71.2 751.8 71.8 754.9 68.7 757.4 64.9 758.7 63.7 761.8 66.2 764.3 68.7 764.9 71.2 763 74.9 761.1 79.9 759.9 84.9 759.3 89.9 759.3 94.9 759.9 99.9 760.5 104.9 761.1 109.9 761.8 M33.7 736.2 37.5 734.9 43.7 733.7 48.7 734.3 52.4 737.4 47.5 739.9 42.5 743 38.7 741.8 36.8 738.7 35 736.8 M32.5 745.5 36.2 746.2 37.5 748.7 35 751.8 33.7 749.9 M40 748 43.1 749.3 45 751.8 46.2 755.5 42.5 753.7 40.6 751.2 M106.8 744.3 108.6 743.7 108 747.4 106.8 749.3 M440 187.7 443 190 446 192.2 448.2 196 451.2 196.7 454.2 196 456.5 193.7 457.2 189.2 458.7 187 461.7 184.7 463.2 188.5 464 193 463.7 199 464 205 468.5 205.7 473.7 205 472.2 208 469.2 210.2 468.2 215.4 467 211.7 464.7 211 461 212.5 457.2 215.4 453.5 216.2 449 219.2 444.5 221.4 440 224.4 M545.6 184.7 549.4 202 553.9 215.4 559.9 228.9 567.4 239.4 574.9 249.9 582.4 260.4 589.9 269.4 M546.4 185.5 547.9 197.5 550.9 209.5 555.4 219.9 561.4 230.4 564.4 237.9 566.6 243.9 568.1 249.9 567.4 253.7 562.9 255.9 559.9 259.7 558.4 263.4 562.9 263.4 568.9 266.4 574.9 267.9 580.9 270.9 586.9 273.9 589.9 275.4 M544.9 184 541.9 182.5 537.4 182.5 534.4 184.7 534.4 190 533.7 196 531.4 199.7 527.7 200.5 524.7 203.5 523.2 208 524.7 212.5 526.9 216.9 526.2 220.7 529.9 221.4 534.4 218.4 538.9 213.9 543.4 212.5 541.9 215.4 537.4 218.4 532.9 222.9 529.9 228.2 533.7 227.4 538.9 222.9 543.4 219.9 540.4 224.4 537.4 230.4 541.9 228.2 546.4 225.9 550.9 225.9 547.9 231.9 546.4 234.9 550.9 230.4 555.4 231.9 559.9 233.4 562.9 234.9 M538.2 190 539.7 196 541.9 202 543.4 208 544.9 213.9 M543.4 194.5 544.9 200.5 547.1 206.5 547.9 212.5 550.1 216.9 M547.5 183.7 548.7 179.3 552.5 176.8 558.1 175.6 565 173.1 567.5 170.6 569.3 166.9 572.5 164.4 575.6 162.5 575.9 160 575 156.2 573.7 151.9 573.1 150 M574 150 577.5 153.1 579.6 155 579.6 158.1 577.5 159.4 578.1 162.5 578.7 165 581.8 165.3 583.7 165.6 587.4 162.5 591.8 156.9 596.2 154.4 600 152.8 M583.7 165.6 582.4 168.7 580.6 173.1 577.5 176.8 575.6 180 575 182.5 570 184.3 565 185.9 561.8 187.5 559.4 190.6 560 192.4 563.7 191.2 568.1 188.7 572.5 185.6 575.6 182.5" fill="none" stroke="#000" stroke-width="1" shape-rendering="crispEdges"/><rect x="224" y="274" width="2" height="2" fill="#000"/>
<path d="M0 0h1051v1h-1051zM1050 0h1v801h-1zM0 0h1v801h-1zM5 0h1v791h-1zM10 0h1v801h-1zM0 790h1051v1h-1051zM10 795h1041v1h-1041zM0 800h1051v1h-1051zM0 0h5v101h-5zM0 200h5v101h-5zM0 400h5v101h-5zM0 600h5v101h-5zM0 0h11v1h-11zM0 100h11v1h-11zM0 200h11v1h-11zM0 300h11v1h-11zM0 400h11v1h-11zM0 500h11v1h-11zM0 600h11v1h-11zM0 700h11v1h-11zM5 0h6v1h-6zM5 17h6v1h-6zM5 33h6v1h-6zM5 50h6v1h-6zM5 67h6v1h-6zM5 83h6v1h-6zM5 100h6v1h-6zM5 117h6v1h-6zM5 133h6v1h-6zM5 150h6v1h-6zM5 167h6v1h-6zM5 183h6v1h-6zM5 200h6v1h-6zM5 217h6v1h-6zM5 233h6v1h-6zM5 250h6v1h-6zM5 267h6v1h-6zM5 283h6v1h-6zM5 300h6v1h-6zM5 317h6v1h-6zM5 333h6v1h-6zM5 350h6v1h-6zM5 367h6v1h-6zM5 383h6v1h-6zM5 400h6v1h-6zM5 417h6v1h-6zM5 433h6v1h-6zM5 450h6v1h-6zM5 467h6v1h-6zM5 483h6v1h-6zM5 500h6v1h-6zM5 517h6v1h-6zM5 533h6v1h-6zM5 550h6v1h-6zM5 567h6v1h-6zM5 583h6v1h-6zM5 600h6v1h-6zM5 617h6v1h-6zM5 633h6v1h-6zM5 650h6v1h-6zM5 667h6v1h-6zM5 683h6v1h-6zM5 700h6v1h-6zM5 717h6v1h-6zM5 733h6v1h-6zM5 750h6v1h-6zM5 767h6v1h-6zM5 783h6v1h-6zM10 795h61v6h-61zM140 795h71v6h-71zM280 795h71v6h-71zM420 795h71v6h-71zM560 795h71v6h-71zM700 795h71v6h-71zM840 795h71v6h-71zM980 795h71v6h-71zM70 790h1v11h-1zM140 790h1v11h-1zM210 790h1v11h-1zM280 790h1v11h-1zM350 790h1v11h-1zM420 790h1v11h-1zM490 790h1v11h-1zM560 790h1v11h-1zM630 790h1v11h-1zM700 790h1v11h-1zM770 790h1v11h-1zM840 790h1v11h-1zM910 790h1v11h-1zM980 790h1v11h-1zM1050 790h1v11h-1zM70 790h1v6h-1zM82 790h1v6h-1zM93 790h1v6h-1zM105 790h1v6h-1zM117 790h1v6h-1zM128 790h1v6h-1zM140 790h1v6h-1zM152 790h1v6h-1zM163 790h1v6h-1zM175 790h1v6h-1zM187 790h1v6h-1zM198 790h1v6h-1zM210 790h1v6h-1zM222 790h1v6h-1zM233 790h1v6h-1zM245 790h1v6h-1zM257 790h1v6h-1zM268 790h1v6h-1zM280 790h1v6h-1zM292 790h1v6h-1zM303 790h1v6h-1zM315 790h1v6h-1zM327 790h1v6h-1zM338 790h1v6h-1zM350 790h1v6h-1zM362 790h1v6h-1zM373 790h1v6h-1zM385 790h1v6h-1zM397 790h1v6h-1zM408 790h1v6h-1zM420 790h1v6h-1zM432 790h1v6h-1zM443 790h1v6h-1zM455 790h1v6h-1zM467 790h1v6h-1zM478 790h1v6h-1zM490 790h1v6h-1zM502 790h1v6h-1zM513 790h1v6h-1zM525 790h1v6h-1zM537 790h1v6h-1zM548 790h1v6h-1zM560 790h1v6h-1zM572 790h1v6h-1zM583 790h1v6h-1zM595 790h1v6h-1zM607 790h1v6h-1zM618 790h1v6h-1zM630 790h1v6h-1zM642 790h1v6h-1zM653 790h1v6h-1zM665 790h1v6h-1zM677 790h1v6h-1zM688 790h1v6h-1zM700 790h1v6h-1zM712 790h1v6h-1zM723 790h1v6h-1zM735 790h1v6h-1zM747 790h1v6h-1zM758 790h1v6h-1zM770 790h1v6h-1zM782 790h1v6h-1zM793 790h1v6h-1zM805 790h1v6h-1zM817 790h1v6h-1zM828 790h1v6h-1zM840 790h1v6h-1zM852 790h1v6h-1zM863 790h1v6h-1zM875 790h1v6h-1zM887 790h1v6h-1zM898 790h1v6h-1zM910 790h1v6h-1zM922 790h1v6h-1zM933 790h1v6h-1zM945 790h1v6h-1zM957 790h1v6h-1zM968 790h1v6h-1zM980 790h1v6h-1zM992 790h1v6h-1zM1003 790h1v6h-1zM1015 790h1v6h-1zM1027 790h1v6h-1zM1038 790h1v6h-1zM1050 790h1v6h-1zM58 790h1v6h-1zM47 790h1v6h-1zM35 790h1v6h-1zM23 790h1v6h-1zM12 790h1v6h-1zM70 456h1v335h-1zM280 0h1v791h-1zM490 0h1v791h-1zM700 0h1v791h-1zM910 0h1v791h-1zM101 100h950v1h-950zM101 300h950v1h-950zM10 500h1041v1h-1041zM10 700h1041v1h-1041zM101 0h1v457h-1zM10 456h92v1h-92zM70 4h1v450h-1zM70 453h19v1h-19zM70 423h4v1h-4zM70 393h4v1h-4zM70 363h4v1h-4zM70 333h4v1h-4zM70 303h7v1h-7zM70 273h4v1h-4zM70 243h4v1h-4zM70 213h4v1h-4zM70 183h4v1h-4zM70 153h7v1h-7zM70 123h4v1h-4zM70 93h4v1h-4zM70 63h4v1h-4zM70 33h4v1h-4zM70 3h4v1h-4zM70 4h4v1h-4z" fill="#000" shape-rendering="crispEdges"/><defs><linearGradient id="cb" x1="0" y1="0" x2="0" y2="1"><stop offset="0.0000" stop-color="#fff4f4"/><stop offset="0.0356" stop-color="#ffe0e0"/><stop offset="0.0689" stop-color="#ffb8b8"/><stop offset="0.0911" stop-color="#ff9898"/><stop offset="0.1133" stop-color="#ff7070"/><stop offset="0.1333" stop-color="#ff4a4a"/><stop offset="0.1467" stop-color="#ff3c3c"/><stop offset="0.1500" stop-color="#ff5200"/><stop offset="0.1800" stop-color="#ff6e00"/><stop offset="0.2133" stop-color="#ff8c00"/><stop offset="0.2400" stop-color="#ffb000"/><stop offset="0.2600" stop-color="#ffe000"/><stop offset="0.2756" stop-color="#f0e800"/><stop offset="0.3022" stop-color="#c8c800"/><stop offset="0.3289" stop-color="#a0a000"/><stop offset="0.3533" stop-color="#707010"/><stop offset="0.3800" stop-color="#0a6a0a"/><stop offset="0.4022" stop-color="#007800"/><stop offset="0.4356" stop-color="#00b000"/><stop offset="0.4689" stop-color="#00e000"/><stop offset="0.4933" stop-color="#00f070"/><stop offset="0.5244" stop-color="#00ffd8"/><stop offset="0.5422" stop-color="#00ffff"/><stop offset="0.5578" stop-color="#00e8ff"/><stop offset="0.5867" stop-color="#00a8ff"/><stop offset="0.6511" stop-color="#0070ff"/><stop offset="0.6756" stop-color="#0030ff"/><stop offset="0.7067" stop-color="#0000ff"/><stop offset="0.7378" stop-color="#0000c0"/><stop offset="0.7600" stop-color="#000080"/><stop offset="0.7733" stop-color="#000050"/><stop offset="0.7911" stop-color="#300050"/><stop offset="0.8244" stop-color="#600060"/><stop offset="0.8578" stop-color="#900090"/><stop offset="0.8889" stop-color="#c000c0"/><stop offset="0.9133" stop-color="#ff00ff"/><stop offset="0.9167" stop-color="#ff60ff"/><stop offset="0.9467" stop-color="#ff90ff"/><stop offset="0.9978" stop-color="#ffe4ff"/></linearGradient></defs><rect x="39" y="4" width="29" height="450" fill="url(#cb)"/><text x="75" y="786" font-family="Liberation Mono, monospace" font-size="22" font-weight="normal" fill="#000" letter-spacing="1" stroke="#000" stroke-width="0.45">28</text><text x="285" y="786" font-family="Liberation Mono, monospace" font-size="22" font-weight="normal" fill="#000" letter-spacing="1" stroke="#000" stroke-width="0.45">31</text><text x="495" y="786" font-family="Liberation Mono, monospace" font-size="22" font-weight="normal" fill="#000" letter-spacing="1" stroke="#000" stroke-width="0.45">34</text><text x="705" y="786" font-family="Liberation Mono, monospace" font-size="22" font-weight="normal" fill="#000" letter-spacing="1" stroke="#000" stroke-width="0.45">37</text><text x="915" y="786" font-family="Liberation Mono, monospace" font-size="22" font-weight="normal" fill="#000" letter-spacing="1" stroke="#000" stroke-width="0.45">40</text><text x="14" y="496" font-family="Liberation Mono, monospace" font-size="22" font-weight="normal" fill="#000" letter-spacing="1" stroke="#000" stroke-width="0.45">43</text><text x="14" y="696" font-family="Liberation Mono, monospace" font-size="22" font-weight="normal" fill="#000" letter-spacing="1" stroke="#000" stroke-width="0.45">41</text><text x="80" y="158" font-family="DejaVu Serif, serif" font-size="13" font-weight="bold" fill="#000" >10</text><text x="88" y="308" font-family="DejaVu Serif, serif" font-size="13" font-weight="bold" fill="#000" >5</text><text x="92" y="454" font-family="DejaVu Serif, serif" font-size="13" font-weight="bold" fill="#000" >0</text><text x="77.6" y="13" font-family="DejaVu Sans, sans-serif" font-size="13" font-weight="bold" fill="#000" >°</text><text x="82" y="22" font-family="Liberation Serif, serif" font-size="24.5" font-weight="normal" fill="#000" >C</text><text transform="translate(31,366) rotate(-90)" font-family="Liberation Mono, monospace" font-size="17.5" letter-spacing="1.5" fill="#000">Sea Surface Temperature</text><text x="551" y="36" font-family="Liberation Mono, monospace" font-size="13.33" font-weight="bold" fill="#000" >VIIRS-NPP</text><text x="551" y="52" font-family="Liberation Mono, monospace" font-size="13.33" font-weight="bold" fill="#000" >5 Feb 2026</text><text x="551" y="68" font-family="Liberation Mono, monospace" font-size="13.33" font-weight="bold" fill="#000" >11:12 GMT</text><text x="946" y="94" font-family="DejaVu Sans Mono, monospace" font-size="16.6" font-weight="normal" fill="#000" stroke="#000" stroke-width="0.6">MHI RAS</text><text x="145" y="91" font-family="DejaVu Sans, sans-serif" font-size="16" font-weight="normal" fill="#0000ff" >OceanColor</text><circle cx="190.2" cy="42.7" r="29" fill="#0000fc"/><ellipse cx="190.5" cy="41.5" rx="22.5" ry="9" transform="rotate(50 190.2 41.3)" fill="none" stroke="#fff" stroke-width="1"/><rect x="184.0" y="17.6" width="1" height="1" fill="#fff"/><rect x="187.6" y="15.6" width="1" height="1" fill="#fff"/><rect x="190.1" y="17.6" width="1" height="1" fill="#fff"/><rect x="193.6" y="16.7" width="2" height="2" fill="#fff"/><rect x="192.9" y="20.9" width="1" height="1" fill="#fff"/><rect x="177.9" y="25.7" width="1" height="1" fill="#fff"/><rect x="179.9" y="26.9" width="1" height="1" fill="#fff"/><rect x="202.2" y="53.7" width="1" height="1" fill="#fff"/><rect x="211.1" y="52.8" width="2" height="2" fill="#fff"/><rect x="207.9" y="57.0" width="1" height="1" fill="#fff"/><rect x="192.1" y="59.8" width="1" height="1" fill="#fff"/><rect x="169.0" y="57.0" width="1" height="1" fill="#fff"/><rect x="166.9" y="58.2" width="1" height="1" fill="#fff"/><rect x="171.0" y="57.8" width="1" height="1" fill="#fff"/><rect x="177.1" y="61.4" width="1" height="1" fill="#fff"/><rect x="180.3" y="60.6" width="1" height="1" fill="#fff"/><rect x="179.9" y="63.0" width="1" height="1" fill="#fff"/><rect x="180.2" y="65.8" width="2" height="2" fill="#fff"/><text x="163" y="50" font-family="Liberation Serif, serif" font-weight="bold" font-size="19" fill="#fff" textLength="52" lengthAdjust="spacingAndGlyphs">NASA</text><path d="M155.3 49.4 L166.2 46.9 L178.4 42.5 L190.6 37.6 L202.7 31.9 L214.9 25.4 L224.6 20.1 L214.9 28.7 L206.8 34.3 L198.7 38.4 L186.5 42.5 L174.3 45.7 L162.2 48.9 L155.3 50.8 Z" fill="#f00000"/><path d="M165.4 68 L174.3 61.9 L182.5 55.4 L190.6 48.9 L198.7 42.5 L207 36.5" fill="none" stroke="#f00000" stroke-width="1.8"/><circle cx="980.5" cy="42.6" r="35.2" fill="none" stroke="#000" stroke-width="1.1"/><path d="M947.2 40.6 L1013.7 40.6 M947.2 40.6 L973.0 66.8 M1013.7 40.6 L987.9 66.8 M953.3 47.6 L976.9 47.6 M984.0 47.6 L1007.6 47.6 M965.5 40.6 L965.5 22.3 L971.1 39.2 L976.2 27.9 L976.2 40.6 M980.5 61.2 L980.5 27.9 M976.2 27.9 L987.0 27.9 L987.0 40.6 M987.9 40.1 L997.3 23.3 L997.3 40.6 M957.0 49.0 L959.9 51.3 L962.7 52.8 L965.9 50.9 L969.2 49.9 L972.5 52.3 L975.3 52.8 L978.6 50.4 L980.0 49.8 M1003.9 49.0 L1001.1 51.3 L998.2 52.8 L995.0 50.9 L991.7 49.9 L988.4 52.3 L985.6 52.8 L982.3 50.4 L980.9 49.8" fill="none" stroke="#000" stroke-width="1.2"/><polygon points="954.0,47.6 973.0,67.0 979.7,61.0 979.7,51.8 977.6,53.9 975.3,55.6 972.5,54.8 969.7,52.6 966.9,52.8 964.1,55.1 961.3,54.6 958.4,51.8 956.1,49.0" fill="#000"/><polygon points="1006.9,47.6 987.9,67.0 981.2,61.0 981.2,51.8 983.3,53.9 985.6,55.6 988.4,54.8 991.2,52.6 994.0,52.8 996.8,55.1 999.6,54.6 1002.5,51.8 1004.8,49.0" fill="#000"/>
</svg></body></html>
